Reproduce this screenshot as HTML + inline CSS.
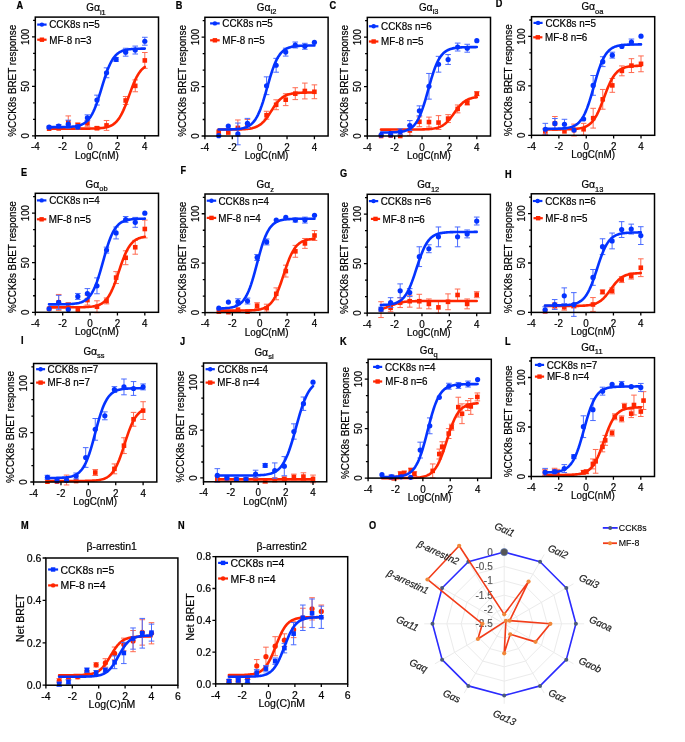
<!DOCTYPE html>
<html><head><meta charset="utf-8"><style>html,body{margin:0;padding:0;background:#fff;}svg{display:block;}text{stroke:#000;stroke-width:0.2px;}</style></head>
<body><div style="will-change:transform">
<svg width="685" height="742" viewBox="0 0 685 742" font-family='"Liberation Sans", sans-serif' fill="#000">
<rect width="685" height="742" fill="#fff"/>
<path d="M58.7 127.39V129.37M55.9 127.39h5.6M55.9 129.37h5.6" stroke="#ff6a50" stroke-width="1" fill="none"/>
<path d="M68.27 115.92V128.78M65.47 115.92h5.6M65.47 128.78h5.6" stroke="#ff6a50" stroke-width="1" fill="none"/>
<path d="M77.83 123.04V127M75.03 123.04h5.6M75.03 127h5.6" stroke="#ff6a50" stroke-width="1" fill="none"/>
<path d="M87.4 120.27V126.21M84.6 120.27h5.6M84.6 126.21h5.6" stroke="#ff6a50" stroke-width="1" fill="none"/>
<path d="M96.97 126.7V129.67M94.17 126.7h5.6M94.17 129.67h5.6" stroke="#ff6a50" stroke-width="1" fill="none"/>
<path d="M106.54 120.47V130.36M103.74 120.47h5.6M103.74 130.36h5.6" stroke="#ff6a50" stroke-width="1" fill="none"/>
<path d="M125.67 96.53V104.44M122.87 96.53h5.6M122.87 104.44h5.6" stroke="#ff6a50" stroke-width="1" fill="none"/>
<path d="M135.24 79.91V91.78M132.44 79.91h5.6M132.44 91.78h5.6" stroke="#ff6a50" stroke-width="1" fill="none"/>
<path d="M144.81 52.51V68.34M142.01 52.51h5.6M142.01 68.34h5.6" stroke="#ff6a50" stroke-width="1" fill="none"/>
<polyline points="48.99,128.68 50.19,128.68 51.38,128.68 52.58,128.68 53.78,128.68 54.98,128.68 56.18,128.68 57.37,128.68 58.57,128.68 59.77,128.68 60.97,128.68 62.16,128.68 63.36,128.68 64.56,128.68 65.76,128.68 66.96,128.68 68.15,128.68 69.35,128.68 70.55,128.67 71.75,128.67 72.94,128.67 74.14,128.67 75.34,128.67 76.54,128.67 77.74,128.67 78.93,128.66 80.13,128.66 81.33,128.66 82.53,128.65 83.72,128.65 84.92,128.64 86.12,128.63 87.32,128.62 88.52,128.61 89.71,128.59 90.91,128.57 92.11,128.55 93.31,128.52 94.5,128.48 95.7,128.44 96.9,128.38 98.1,128.32 99.3,128.24 100.49,128.14 101.69,128.02 102.89,127.88 104.09,127.7 105.28,127.49 106.48,127.23 107.68,126.92 108.88,126.54 110.08,126.08 111.27,125.52 112.47,124.86 113.67,124.07 114.87,123.13 116.06,122.01 117.26,120.7 118.46,119.18 119.66,117.42 120.86,115.41 122.05,113.15 123.25,110.63 124.45,107.87 125.65,104.89 126.84,101.75 128.04,98.49 129.24,95.16 130.44,91.85 131.64,88.62 132.83,85.52 134.03,82.6 135.23,79.91 136.43,77.46 137.62,75.27 138.82,73.33 140.02,71.64 141.22,70.18 142.42,68.93 143.61,67.87 144.81,66.97" fill="none" stroke="#ff2600" stroke-width="2.6" stroke-linecap="round" stroke-linejoin="round"/>
<rect x="46.83" y="126.38" width="4.6" height="4.6" fill="#ff2600"/>
<rect x="56.4" y="126.08" width="4.6" height="4.6" fill="#ff2600"/>
<rect x="65.97" y="120.05" width="4.6" height="4.6" fill="#ff2600"/>
<rect x="75.53" y="122.72" width="4.6" height="4.6" fill="#ff2600"/>
<rect x="85.1" y="120.94" width="4.6" height="4.6" fill="#ff2600"/>
<rect x="94.67" y="125.88" width="4.6" height="4.6" fill="#ff2600"/>
<rect x="104.24" y="123.11" width="4.6" height="4.6" fill="#ff2600"/>
<rect x="123.37" y="98.19" width="4.6" height="4.6" fill="#ff2600"/>
<rect x="132.94" y="83.55" width="4.6" height="4.6" fill="#ff2600"/>
<rect x="142.51" y="58.13" width="4.6" height="4.6" fill="#ff2600"/>
<path d="M49.13 126.21V128.18M46.33 126.21h5.6M46.33 128.18h5.6" stroke="#4a6bff" stroke-width="1" fill="none"/>
<path d="M58.7 124.52V127.49M55.9 124.52h5.6M55.9 127.49h5.6" stroke="#4a6bff" stroke-width="1" fill="none"/>
<path d="M68.27 120.17V128.08M65.47 120.17h5.6M65.47 128.08h5.6" stroke="#4a6bff" stroke-width="1" fill="none"/>
<path d="M77.83 124.92V128.88M75.03 124.92h5.6M75.03 128.88h5.6" stroke="#4a6bff" stroke-width="1" fill="none"/>
<path d="M87.4 114.83V120.76M84.6 114.83h5.6M84.6 120.76h5.6" stroke="#4a6bff" stroke-width="1" fill="none"/>
<path d="M96.97 95.15V105.04M94.17 95.15h5.6M94.17 105.04h5.6" stroke="#4a6bff" stroke-width="1" fill="none"/>
<path d="M106.54 67.84V77.74M103.74 67.84h5.6M103.74 77.74h5.6" stroke="#4a6bff" stroke-width="1" fill="none"/>
<path d="M116.11 57.46V61.41M113.31 57.46h5.6M113.31 61.41h5.6" stroke="#4a6bff" stroke-width="1" fill="none"/>
<path d="M125.67 48.26V56.17M122.87 48.26h5.6M122.87 56.17h5.6" stroke="#4a6bff" stroke-width="1" fill="none"/>
<path d="M135.24 46.08V54M132.44 46.08h5.6M132.44 54h5.6" stroke="#4a6bff" stroke-width="1" fill="none"/>
<path d="M144.81 37.28V45.19M142.01 37.28h5.6M142.01 45.19h5.6" stroke="#4a6bff" stroke-width="1" fill="none"/>
<polyline points="48.99,127.18 50.19,127.18 51.38,127.18 52.58,127.17 53.78,127.17 54.98,127.16 56.18,127.16 57.37,127.15 58.57,127.14 59.77,127.13 60.97,127.11 62.16,127.09 63.36,127.07 64.56,127.04 65.76,127.01 66.96,126.97 68.15,126.92 69.35,126.85 70.55,126.78 71.75,126.69 72.94,126.57 74.14,126.44 75.34,126.27 76.54,126.07 77.74,125.82 78.93,125.52 80.13,125.16 81.33,124.72 82.53,124.18 83.72,123.54 84.92,122.77 86.12,121.85 87.32,120.76 88.52,119.46 89.71,117.94 90.91,116.17 92.11,114.11 93.31,111.77 94.5,109.11 95.7,106.16 96.9,102.91 98.1,99.41 99.3,95.69 100.49,91.82 101.69,87.87 102.89,83.93 104.09,80.06 105.28,76.34 106.48,72.84 107.68,69.59 108.88,66.63 110.08,63.98 111.27,61.64 112.47,59.58 113.67,57.81 114.87,56.29 116.06,54.99 117.26,53.9 118.46,52.98 119.66,52.21 120.86,51.57 122.05,51.03 123.25,50.59 124.45,50.23 125.65,49.93 126.84,49.68 128.04,49.48 129.24,49.31 130.44,49.18 131.64,49.06 132.83,48.97 134.03,48.9 135.23,48.83 136.43,48.78 137.62,48.74 138.82,48.71 140.02,48.68 141.22,48.66 142.42,48.64 143.61,48.62 144.81,48.61" fill="none" stroke="#0433ff" stroke-width="2.6" stroke-linecap="round" stroke-linejoin="round"/>
<circle cx="49.13" cy="127.19" r="2.6" fill="#0433ff"/>
<circle cx="58.7" cy="126.01" r="2.6" fill="#0433ff"/>
<circle cx="68.27" cy="124.13" r="2.6" fill="#0433ff"/>
<circle cx="77.83" cy="126.9" r="2.6" fill="#0433ff"/>
<circle cx="87.4" cy="117.8" r="2.6" fill="#0433ff"/>
<circle cx="96.97" cy="100.09" r="2.6" fill="#0433ff"/>
<circle cx="106.54" cy="72.79" r="2.6" fill="#0433ff"/>
<circle cx="116.11" cy="59.44" r="2.6" fill="#0433ff"/>
<circle cx="125.67" cy="52.22" r="2.6" fill="#0433ff"/>
<circle cx="135.24" cy="50.04" r="2.6" fill="#0433ff"/>
<circle cx="144.81" cy="41.24" r="2.6" fill="#0433ff"/>
<rect x="35.3" y="17.1" width="123.2" height="118.7" fill="none" stroke="#000" stroke-width="1.5"/>
<path d="M32 135.8H35.3M32 86.34H35.3M32 36.88H35.3M33.1 119.31H35.3M33.1 102.83H35.3M33.1 69.86H35.3M33.1 53.37H35.3M33.1 20.4H35.3M35.3 135.8V139M62.68 135.8V139M90.06 135.8V139M117.43 135.8V139M144.81 135.8V139" stroke="#000" stroke-width="1.3" fill="none"/>
<text transform="translate(29.1 135.8) rotate(-90) scale(1 1.05)" text-anchor="middle" font-size="9.85">0</text>
<text transform="translate(29.1 86.34) rotate(-90) scale(1 1.05)" text-anchor="middle" font-size="9.85">50</text>
<text transform="translate(29.1 36.88) rotate(-90) scale(1 1.05)" text-anchor="middle" font-size="9.85">100</text>
<text transform="translate(35.3 150.3) scale(1 1.05)" text-anchor="middle" font-size="9.85">-4</text>
<text transform="translate(62.68 150.3) scale(1 1.05)" text-anchor="middle" font-size="9.85">-2</text>
<text transform="translate(90.06 150.3) scale(1 1.05)" text-anchor="middle" font-size="9.85">0</text>
<text transform="translate(117.43 150.3) scale(1 1.05)" text-anchor="middle" font-size="9.85">2</text>
<text transform="translate(144.81 150.3) scale(1 1.05)" text-anchor="middle" font-size="9.85">4</text>
<text transform="translate(96.9 158.7) scale(1 1.05)" text-anchor="middle" font-size="9.85">LogC(nM)</text>
<text transform="translate(15.9 80.75) rotate(-90) scale(1 1.05)" text-anchor="middle" font-size="9.85">%CCK8s BRET response</text>
<text transform="translate(96 11.4) scale(1 1.05)" text-anchor="middle" font-size="9.85">G<tspan font-size="10.5">α</tspan><tspan font-size="7.5" dy="3.2">i1</tspan></text>
<text transform="translate(16.4 8.9) scale(1 1.15)" font-size="9.2" font-weight="bold">A</text>
<path d="M37.2 24.6H46.6" stroke="#0433ff" stroke-width="2.2"/>
<circle cx="41.9" cy="24.6" r="2.2" fill="#0433ff"/>
<text transform="translate(49.2 28.43) scale(1 1.05)" font-size="9.85">CCK8s n=5</text>
<path d="M37.2 39.7H46.6" stroke="#ff2600" stroke-width="2.2"/>
<rect x="39.7" y="37.5" width="4.4" height="4.4" fill="#ff2600"/>
<text transform="translate(49.2 43.53) scale(1 1.05)" font-size="9.85">MF-8 n=3</text>
<path d="M237.87 119.98V135.8M235.07 119.98h5.6M235.07 135.8h5.6" stroke="#ff6a50" stroke-width="1" fill="none"/>
<path d="M247.43 119.48V129.37M244.63 119.48h5.6M244.63 129.37h5.6" stroke="#ff6a50" stroke-width="1" fill="none"/>
<path d="M266.57 111.27V119.18M263.77 111.27h5.6M263.77 119.18h5.6" stroke="#ff6a50" stroke-width="1" fill="none"/>
<path d="M276.14 99.8V109.69M273.34 99.8h5.6M273.34 109.69h5.6" stroke="#ff6a50" stroke-width="1" fill="none"/>
<path d="M285.71 93.76V105.63M282.91 93.76h5.6M282.91 105.63h5.6" stroke="#ff6a50" stroke-width="1" fill="none"/>
<path d="M295.27 87.73V99.6M292.47 87.73h5.6M292.47 99.6h5.6" stroke="#ff6a50" stroke-width="1" fill="none"/>
<path d="M304.84 83.08V98.91M302.04 83.08h5.6M302.04 98.91h5.6" stroke="#ff6a50" stroke-width="1" fill="none"/>
<path d="M314.41 84.86V98.71M311.61 84.86h5.6M311.61 98.71h5.6" stroke="#ff6a50" stroke-width="1" fill="none"/>
<polyline points="218.59,129.57 219.79,129.56 220.98,129.56 222.18,129.56 223.38,129.56 224.58,129.56 225.78,129.55 226.97,129.55 228.17,129.54 229.37,129.54 230.57,129.53 231.76,129.52 232.96,129.51 234.16,129.5 235.36,129.48 236.56,129.46 237.75,129.44 238.95,129.41 240.15,129.37 241.35,129.33 242.54,129.28 243.74,129.21 244.94,129.13 246.14,129.04 247.34,128.92 248.53,128.78 249.73,128.61 250.93,128.4 252.13,128.15 253.32,127.85 254.52,127.49 255.72,127.05 256.92,126.53 258.12,125.92 259.31,125.21 260.51,124.37 261.71,123.4 262.91,122.29 264.1,121.04 265.3,119.65 266.5,118.12 267.7,116.46 268.9,114.71 270.09,112.89 271.29,111.02 272.49,109.16 273.69,107.34 274.88,105.58 276.08,103.93 277.28,102.4 278.48,101 279.68,99.75 280.87,98.65 282.07,97.68 283.27,96.84 284.47,96.12 285.66,95.51 286.86,95 288.06,94.56 289.26,94.2 290.46,93.9 291.65,93.65 292.85,93.44 294.05,93.27 295.25,93.12 296.44,93.01 297.64,92.91 298.84,92.83 300.04,92.77 301.24,92.72 302.43,92.67 303.63,92.64 304.83,92.61 306.03,92.58 307.22,92.56 308.42,92.55 309.62,92.54 310.82,92.52 312.02,92.52 313.21,92.51 314.41,92.5" fill="none" stroke="#ff2600" stroke-width="2.6" stroke-linecap="round" stroke-linejoin="round"/>
<rect x="216.43" y="129.45" width="4.6" height="4.6" fill="#ff2600"/>
<rect x="226" y="130.24" width="4.6" height="4.6" fill="#ff2600"/>
<rect x="235.57" y="125.59" width="4.6" height="4.6" fill="#ff2600"/>
<rect x="245.13" y="122.13" width="4.6" height="4.6" fill="#ff2600"/>
<rect x="264.27" y="112.93" width="4.6" height="4.6" fill="#ff2600"/>
<rect x="273.84" y="102.44" width="4.6" height="4.6" fill="#ff2600"/>
<rect x="283.41" y="97.4" width="4.6" height="4.6" fill="#ff2600"/>
<rect x="292.97" y="91.36" width="4.6" height="4.6" fill="#ff2600"/>
<rect x="302.54" y="88.69" width="4.6" height="4.6" fill="#ff2600"/>
<rect x="312.11" y="89.48" width="4.6" height="4.6" fill="#ff2600"/>
<path d="M237.87 123.04V144.8M235.07 123.04h5.6M235.07 144.8h5.6" stroke="#4a6bff" stroke-width="1" fill="none"/>
<path d="M247.43 118.39V128.28M244.63 118.39h5.6M244.63 128.28h5.6" stroke="#4a6bff" stroke-width="1" fill="none"/>
<path d="M266.57 76.85V94.65M263.77 76.85h5.6M263.77 94.65h5.6" stroke="#4a6bff" stroke-width="1" fill="none"/>
<path d="M276.14 58.35V72.2M273.34 58.35h5.6M273.34 72.2h5.6" stroke="#4a6bff" stroke-width="1" fill="none"/>
<path d="M285.71 48.16V56.08M282.91 48.16h5.6M282.91 56.08h5.6" stroke="#4a6bff" stroke-width="1" fill="none"/>
<path d="M295.27 42.03V47.96M292.47 42.03h5.6M292.47 47.96h5.6" stroke="#4a6bff" stroke-width="1" fill="none"/>
<path d="M304.84 43.32V49.25M302.04 43.32h5.6M302.04 49.25h5.6" stroke="#4a6bff" stroke-width="1" fill="none"/>
<polyline points="218.59,129.55 219.79,129.54 220.98,129.53 222.18,129.53 223.38,129.52 224.58,129.51 225.78,129.49 226.97,129.47 228.17,129.45 229.37,129.43 230.57,129.39 231.76,129.35 232.96,129.31 234.16,129.25 235.36,129.17 236.56,129.09 237.75,128.98 238.95,128.85 240.15,128.69 241.35,128.49 242.54,128.26 243.74,127.97 244.94,127.62 246.14,127.2 247.34,126.69 248.53,126.07 249.73,125.33 250.93,124.44 252.13,123.38 253.32,122.12 254.52,120.64 255.72,118.9 256.92,116.88 258.12,114.55 259.31,111.9 260.51,108.93 261.71,105.63 262.91,102.04 264.1,98.18 265.3,94.13 266.5,89.95 267.7,85.72 268.9,81.52 270.09,77.45 271.29,73.56 272.49,69.93 273.69,66.59 274.88,63.57 276.08,60.87 277.28,58.5 278.48,56.43 279.68,54.65 280.87,53.13 282.07,51.85 283.27,50.76 284.47,49.85 285.66,49.09 286.86,48.45 288.06,47.93 289.26,47.49 290.46,47.14 291.65,46.84 292.85,46.6 294.05,46.4 295.25,46.23 296.44,46.1 297.64,45.99 298.84,45.9 300.04,45.82 301.24,45.76 302.43,45.71 303.63,45.67 304.83,45.64 306.03,45.61 307.22,45.59 308.42,45.57 309.62,45.56 310.82,45.55 312.02,45.54 313.21,45.53 314.41,45.52" fill="none" stroke="#0433ff" stroke-width="2.6" stroke-linecap="round" stroke-linejoin="round"/>
<circle cx="218.73" cy="135.7" r="2.6" fill="#0433ff"/>
<circle cx="228.3" cy="126.01" r="2.6" fill="#0433ff"/>
<circle cx="237.87" cy="133.92" r="2.6" fill="#0433ff"/>
<circle cx="247.43" cy="123.34" r="2.6" fill="#0433ff"/>
<circle cx="266.57" cy="85.75" r="2.6" fill="#0433ff"/>
<circle cx="276.14" cy="65.27" r="2.6" fill="#0433ff"/>
<circle cx="285.71" cy="52.12" r="2.6" fill="#0433ff"/>
<circle cx="295.27" cy="45" r="2.6" fill="#0433ff"/>
<circle cx="304.84" cy="46.28" r="2.6" fill="#0433ff"/>
<circle cx="314.41" cy="42.33" r="2.6" fill="#0433ff"/>
<rect x="204.9" y="17.3" width="123.2" height="118.7" fill="none" stroke="#000" stroke-width="1.5"/>
<path d="M201.6 136H204.9M201.6 86.54H204.9M201.6 37.08H204.9M202.7 119.51H204.9M202.7 103.03H204.9M202.7 70.06H204.9M202.7 53.57H204.9M202.7 20.6H204.9M204.9 136V139.2M232.28 136V139.2M259.66 136V139.2M287.03 136V139.2M314.41 136V139.2" stroke="#000" stroke-width="1.3" fill="none"/>
<text transform="translate(198.7 136) rotate(-90) scale(1 1.05)" text-anchor="middle" font-size="9.85">0</text>
<text transform="translate(198.7 86.54) rotate(-90) scale(1 1.05)" text-anchor="middle" font-size="9.85">50</text>
<text transform="translate(198.7 37.08) rotate(-90) scale(1 1.05)" text-anchor="middle" font-size="9.85">100</text>
<text transform="translate(204.9 150.5) scale(1 1.05)" text-anchor="middle" font-size="9.85">-4</text>
<text transform="translate(232.28 150.5) scale(1 1.05)" text-anchor="middle" font-size="9.85">-2</text>
<text transform="translate(259.66 150.5) scale(1 1.05)" text-anchor="middle" font-size="9.85">0</text>
<text transform="translate(287.03 150.5) scale(1 1.05)" text-anchor="middle" font-size="9.85">2</text>
<text transform="translate(314.41 150.5) scale(1 1.05)" text-anchor="middle" font-size="9.85">4</text>
<text transform="translate(266.5 158.9) scale(1 1.05)" text-anchor="middle" font-size="9.85">LogC(nM)</text>
<text transform="translate(185.5 80.95) rotate(-90) scale(1 1.05)" text-anchor="middle" font-size="9.85">%CCK8s BRET response</text>
<text transform="translate(266.6 10.8) scale(1 1.05)" text-anchor="middle" font-size="9.85">G<tspan font-size="10.5">α</tspan><tspan font-size="7.5" dy="3.2">i2</tspan></text>
<text transform="translate(175.8 9.2) scale(1 1.15)" font-size="9.2" font-weight="bold">B</text>
<path d="M210.1 23.4H219.7" stroke="#0433ff" stroke-width="2.2"/>
<circle cx="214.9" cy="23.4" r="2.2" fill="#0433ff"/>
<text transform="translate(222.3 27.23) scale(1 1.05)" font-size="9.85">CCK8s n=5</text>
<path d="M210.1 40.3H219.7" stroke="#ff2600" stroke-width="2.2"/>
<rect x="212.7" y="38.1" width="4.4" height="4.4" fill="#ff2600"/>
<text transform="translate(222.3 44.13) scale(1 1.05)" font-size="9.85">MF-8 n=5</text>
<path d="M409.83 125.52V135.41M407.03 125.52h5.6M407.03 135.41h5.6" stroke="#ff6a50" stroke-width="1" fill="none"/>
<path d="M419.4 116.83V126.71M416.6 116.83h5.6M416.6 126.71h5.6" stroke="#ff6a50" stroke-width="1" fill="none"/>
<path d="M428.97 117.12V127.01M426.17 117.12h5.6M426.17 127.01h5.6" stroke="#ff6a50" stroke-width="1" fill="none"/>
<path d="M438.54 115.64V129.48M435.74 115.64h5.6M435.74 129.48h5.6" stroke="#ff6a50" stroke-width="1" fill="none"/>
<path d="M448.11 114.65V122.56M445.31 114.65h5.6M445.31 122.56h5.6" stroke="#ff6a50" stroke-width="1" fill="none"/>
<path d="M457.67 104.97V112.87M454.87 104.97h5.6M454.87 112.87h5.6" stroke="#ff6a50" stroke-width="1" fill="none"/>
<path d="M467.24 100.91V104.87M464.44 100.91h5.6M464.44 104.87h5.6" stroke="#ff6a50" stroke-width="1" fill="none"/>
<path d="M476.81 91.72V95.68M474.01 91.72h5.6M474.01 95.68h5.6" stroke="#ff6a50" stroke-width="1" fill="none"/>
<polyline points="380.99,129.58 382.19,129.58 383.38,129.58 384.58,129.58 385.78,129.58 386.98,129.58 388.18,129.58 389.37,129.58 390.57,129.58 391.77,129.57 392.97,129.57 394.16,129.57 395.36,129.57 396.56,129.57 397.76,129.57 398.96,129.57 400.15,129.57 401.35,129.57 402.55,129.57 403.75,129.57 404.94,129.57 406.14,129.57 407.34,129.56 408.54,129.56 409.74,129.56 410.93,129.55 412.13,129.55 413.33,129.54 414.53,129.53 415.72,129.52 416.92,129.51 418.12,129.5 419.32,129.48 420.52,129.46 421.71,129.44 422.91,129.41 424.11,129.37 425.31,129.32 426.5,129.27 427.7,129.2 428.9,129.11 430.1,129.01 431.3,128.89 432.49,128.74 433.69,128.56 434.89,128.34 436.09,128.08 437.28,127.76 438.48,127.39 439.68,126.94 440.88,126.4 442.08,125.78 443.27,125.05 444.47,124.2 445.67,123.23 446.87,122.13 448.06,120.9 449.26,119.56 450.46,118.09 451.66,116.54 452.86,114.92 454.05,113.26 455.25,111.6 456.45,109.96 457.65,108.38 458.84,106.89 460.04,105.51 461.24,104.25 462.44,103.11 463.64,102.11 464.83,101.23 466.03,100.46 467.23,99.81 468.43,99.25 469.62,98.78 470.82,98.38 472.02,98.05 473.22,97.77 474.42,97.54 475.61,97.35 476.81,97.19" fill="none" stroke="#ff2600" stroke-width="2.6" stroke-linecap="round" stroke-linejoin="round"/>
<rect x="378.83" y="133.7" width="4.6" height="4.6" fill="#ff2600"/>
<rect x="388.4" y="133.21" width="4.6" height="4.6" fill="#ff2600"/>
<rect x="397.97" y="133.7" width="4.6" height="4.6" fill="#ff2600"/>
<rect x="407.53" y="128.17" width="4.6" height="4.6" fill="#ff2600"/>
<rect x="417.1" y="119.47" width="4.6" height="4.6" fill="#ff2600"/>
<rect x="426.67" y="119.76" width="4.6" height="4.6" fill="#ff2600"/>
<rect x="436.24" y="120.26" width="4.6" height="4.6" fill="#ff2600"/>
<rect x="445.81" y="116.31" width="4.6" height="4.6" fill="#ff2600"/>
<rect x="455.37" y="106.62" width="4.6" height="4.6" fill="#ff2600"/>
<rect x="464.94" y="100.59" width="4.6" height="4.6" fill="#ff2600"/>
<rect x="474.51" y="91.4" width="4.6" height="4.6" fill="#ff2600"/>
<path d="M400.27 128.79V134.72M397.47 128.79h5.6M397.47 134.72h5.6" stroke="#4a6bff" stroke-width="1" fill="none"/>
<path d="M409.83 120.58V130.47M407.03 120.58h5.6M407.03 130.47h5.6" stroke="#4a6bff" stroke-width="1" fill="none"/>
<path d="M419.4 105.86V115.74M416.6 105.86h5.6M416.6 115.74h5.6" stroke="#4a6bff" stroke-width="1" fill="none"/>
<path d="M428.97 73.44V99.14M426.17 73.44h5.6M426.17 99.14h5.6" stroke="#4a6bff" stroke-width="1" fill="none"/>
<path d="M438.54 56.34V72.15M435.74 56.34h5.6M435.74 72.15h5.6" stroke="#4a6bff" stroke-width="1" fill="none"/>
<path d="M448.11 54.56V64.44M445.31 54.56h5.6M445.31 64.44h5.6" stroke="#4a6bff" stroke-width="1" fill="none"/>
<path d="M457.67 43.1V51M454.87 43.1h5.6M454.87 51h5.6" stroke="#4a6bff" stroke-width="1" fill="none"/>
<path d="M467.24 44.28V52.19M464.44 44.28h5.6M464.44 52.19h5.6" stroke="#4a6bff" stroke-width="1" fill="none"/>
<polyline points="380.99,132.51 382.19,132.5 383.38,132.5 384.58,132.49 385.78,132.47 386.98,132.46 388.18,132.44 389.37,132.42 390.57,132.39 391.77,132.36 392.97,132.31 394.16,132.26 395.36,132.2 396.56,132.13 397.76,132.03 398.96,131.92 400.15,131.79 401.35,131.62 402.55,131.42 403.75,131.17 404.94,130.87 406.14,130.5 407.34,130.06 408.54,129.53 409.74,128.89 410.93,128.11 412.13,127.19 413.33,126.08 414.53,124.77 415.72,123.22 416.92,121.41 418.12,119.31 419.32,116.9 420.52,114.16 421.71,111.09 422.91,107.69 424.11,104 425.31,100.05 426.5,95.9 427.7,91.64 428.9,87.34 430.1,83.08 431.3,78.96 432.49,75.05 433.69,71.39 434.89,68.04 436.09,65.02 437.28,62.32 438.48,59.96 439.68,57.9 440.88,56.13 442.08,54.62 443.27,53.34 444.47,52.26 445.67,51.36 446.87,50.61 448.06,49.98 449.26,49.46 450.46,49.03 451.66,48.68 452.86,48.38 454.05,48.14 455.25,47.95 456.45,47.78 457.65,47.65 458.84,47.54 460.04,47.45 461.24,47.38 462.44,47.32 463.64,47.27 464.83,47.23 466.03,47.2 467.23,47.17 468.43,47.15 469.62,47.13 470.82,47.12 472.02,47.1 473.22,47.09 474.42,47.09 475.61,47.08 476.81,47.07" fill="none" stroke="#0433ff" stroke-width="2.6" stroke-linecap="round" stroke-linejoin="round"/>
<circle cx="381.13" cy="135.21" r="2.6" fill="#0433ff"/>
<circle cx="390.7" cy="135.01" r="2.6" fill="#0433ff"/>
<circle cx="400.27" cy="131.75" r="2.6" fill="#0433ff"/>
<circle cx="409.83" cy="125.52" r="2.6" fill="#0433ff"/>
<circle cx="419.4" cy="110.8" r="2.6" fill="#0433ff"/>
<circle cx="428.97" cy="86.29" r="2.6" fill="#0433ff"/>
<circle cx="438.54" cy="64.25" r="2.6" fill="#0433ff"/>
<circle cx="448.11" cy="59.5" r="2.6" fill="#0433ff"/>
<circle cx="457.67" cy="47.05" r="2.6" fill="#0433ff"/>
<circle cx="467.24" cy="48.24" r="2.6" fill="#0433ff"/>
<circle cx="476.81" cy="40.63" r="2.6" fill="#0433ff"/>
<rect x="367.3" y="17.4" width="123.2" height="118.6" fill="none" stroke="#000" stroke-width="1.5"/>
<path d="M364 136H367.3M364 86.58H367.3M364 37.17H367.3M365.1 119.53H367.3M365.1 103.06H367.3M365.1 70.11H367.3M365.1 53.64H367.3M365.1 20.69H367.3M367.3 136V139.2M394.68 136V139.2M422.06 136V139.2M449.43 136V139.2M476.81 136V139.2" stroke="#000" stroke-width="1.3" fill="none"/>
<text transform="translate(361.1 136) rotate(-90) scale(1 1.05)" text-anchor="middle" font-size="9.85">0</text>
<text transform="translate(361.1 86.58) rotate(-90) scale(1 1.05)" text-anchor="middle" font-size="9.85">50</text>
<text transform="translate(361.1 37.17) rotate(-90) scale(1 1.05)" text-anchor="middle" font-size="9.85">100</text>
<text transform="translate(367.3 150.5) scale(1 1.05)" text-anchor="middle" font-size="9.85">-4</text>
<text transform="translate(394.68 150.5) scale(1 1.05)" text-anchor="middle" font-size="9.85">-2</text>
<text transform="translate(422.06 150.5) scale(1 1.05)" text-anchor="middle" font-size="9.85">0</text>
<text transform="translate(449.43 150.5) scale(1 1.05)" text-anchor="middle" font-size="9.85">2</text>
<text transform="translate(476.81 150.5) scale(1 1.05)" text-anchor="middle" font-size="9.85">4</text>
<text transform="translate(428.9 158.9) scale(1 1.05)" text-anchor="middle" font-size="9.85">LogC(nM)</text>
<text transform="translate(347.9 81) rotate(-90) scale(1 1.05)" text-anchor="middle" font-size="9.85">%CCK8s BRET response</text>
<text transform="translate(428.7 10.8) scale(1 1.05)" text-anchor="middle" font-size="9.85">G<tspan font-size="10.5">α</tspan><tspan font-size="7.5" dy="3.2">i3</tspan></text>
<text transform="translate(329.5 8.9) scale(1 1.15)" font-size="9.2" font-weight="bold">C</text>
<path d="M368.9 26.3H378.4" stroke="#0433ff" stroke-width="2.2"/>
<circle cx="373.65" cy="26.3" r="2.2" fill="#0433ff"/>
<text transform="translate(381.1 30.13) scale(1 1.05)" font-size="9.85">CCK8s n=6</text>
<path d="M368.9 41.5H378.4" stroke="#ff2600" stroke-width="2.2"/>
<rect x="371.45" y="39.3" width="4.4" height="4.4" fill="#ff2600"/>
<text transform="translate(381.1 45.33) scale(1 1.05)" font-size="9.85">MF-8 n=5</text>
<path d="M545.33 128.38V134.31M542.53 128.38h5.6M542.53 134.31h5.6" stroke="#ff6a50" stroke-width="1" fill="none"/>
<path d="M554.9 116.52V130.36M552.1 116.52h5.6M552.1 130.36h5.6" stroke="#ff6a50" stroke-width="1" fill="none"/>
<path d="M574.03 124.13V135.99M571.23 124.13h5.6M571.23 135.99h5.6" stroke="#ff6a50" stroke-width="1" fill="none"/>
<path d="M583.6 123.34V135.2M580.8 123.34h5.6M580.8 135.2h5.6" stroke="#ff6a50" stroke-width="1" fill="none"/>
<path d="M593.17 108.32V128.09M590.37 108.32h5.6M590.37 128.09h5.6" stroke="#ff6a50" stroke-width="1" fill="none"/>
<path d="M602.74 89.44V109.21M599.94 89.44h5.6M599.94 109.21h5.6" stroke="#ff6a50" stroke-width="1" fill="none"/>
<path d="M612.31 78.47V92.31M609.51 78.47h5.6M609.51 92.31h5.6" stroke="#ff6a50" stroke-width="1" fill="none"/>
<path d="M621.87 65.92V75.8M619.07 65.92h5.6M619.07 75.8h5.6" stroke="#ff6a50" stroke-width="1" fill="none"/>
<path d="M631.44 58.7V72.54M628.64 58.7h5.6M628.64 72.54h5.6" stroke="#ff6a50" stroke-width="1" fill="none"/>
<path d="M641.01 55.94V71.75M638.21 55.94h5.6M638.21 71.75h5.6" stroke="#ff6a50" stroke-width="1" fill="none"/>
<polyline points="545.19,129.37 546.39,129.37 547.58,129.37 548.78,129.36 549.98,129.36 551.18,129.36 552.38,129.36 553.57,129.36 554.77,129.35 555.97,129.35 557.17,129.35 558.36,129.34 559.56,129.33 560.76,129.33 561.96,129.32 563.16,129.3 564.35,129.29 565.55,129.27 566.75,129.25 567.95,129.22 569.14,129.19 570.34,129.15 571.54,129.1 572.74,129.04 573.94,128.97 575.13,128.88 576.33,128.77 577.53,128.64 578.73,128.48 579.92,128.29 581.12,128.05 582.32,127.76 583.52,127.42 584.72,127 585.91,126.49 587.11,125.88 588.31,125.16 589.51,124.29 590.7,123.26 591.9,122.06 593.1,120.65 594.3,119.02 595.5,117.15 596.69,115.04 597.89,112.68 599.09,110.08 600.29,107.26 601.48,104.27 602.68,101.15 603.88,97.95 605.08,94.75 606.28,91.6 607.47,88.57 608.67,85.7 609.87,83.04 611.07,80.61 612.26,78.42 613.46,76.48 614.66,74.79 615.86,73.32 617.06,72.05 618.25,70.98 619.45,70.07 620.65,69.3 621.85,68.66 623.04,68.13 624.24,67.69 625.44,67.32 626.64,67.02 627.84,66.77 629.03,66.56 630.23,66.39 631.43,66.25 632.63,66.14 633.82,66.05 635.02,65.97 636.22,65.91 637.42,65.85 638.62,65.81 639.81,65.78 641.01,65.75" fill="none" stroke="#ff2600" stroke-width="2.6" stroke-linecap="round" stroke-linejoin="round"/>
<rect x="543.03" y="129.05" width="4.6" height="4.6" fill="#ff2600"/>
<rect x="552.6" y="121.14" width="4.6" height="4.6" fill="#ff2600"/>
<rect x="562.17" y="129.05" width="4.6" height="4.6" fill="#ff2600"/>
<rect x="571.73" y="127.76" width="4.6" height="4.6" fill="#ff2600"/>
<rect x="581.3" y="126.97" width="4.6" height="4.6" fill="#ff2600"/>
<rect x="590.87" y="115.9" width="4.6" height="4.6" fill="#ff2600"/>
<rect x="600.44" y="97.02" width="4.6" height="4.6" fill="#ff2600"/>
<rect x="610.01" y="83.09" width="4.6" height="4.6" fill="#ff2600"/>
<rect x="619.57" y="68.56" width="4.6" height="4.6" fill="#ff2600"/>
<rect x="629.14" y="63.32" width="4.6" height="4.6" fill="#ff2600"/>
<rect x="638.71" y="61.54" width="4.6" height="4.6" fill="#ff2600"/>
<path d="M545.33 123.34V135.2M542.53 123.34h5.6M542.53 135.2h5.6" stroke="#4a6bff" stroke-width="1" fill="none"/>
<path d="M554.9 118.5V128.38M552.1 118.5h5.6M552.1 128.38h5.6" stroke="#4a6bff" stroke-width="1" fill="none"/>
<path d="M564.47 119.29V129.17M561.67 119.29h5.6M561.67 129.17h5.6" stroke="#4a6bff" stroke-width="1" fill="none"/>
<path d="M593.17 75.51V95.27M590.37 75.51h5.6M590.37 95.27h5.6" stroke="#4a6bff" stroke-width="1" fill="none"/>
<path d="M602.74 56.73V66.61M599.94 56.73h5.6M599.94 66.61h5.6" stroke="#4a6bff" stroke-width="1" fill="none"/>
<path d="M612.31 52.18V58.11M609.51 52.18h5.6M609.51 58.11h5.6" stroke="#4a6bff" stroke-width="1" fill="none"/>
<path d="M631.44 39.04V44.97M628.64 39.04h5.6M628.64 44.97h5.6" stroke="#4a6bff" stroke-width="1" fill="none"/>
<polyline points="545.19,128.85 546.39,128.85 547.58,128.84 548.78,128.83 549.98,128.82 551.18,128.81 552.38,128.8 553.57,128.78 554.77,128.76 555.97,128.73 557.17,128.7 558.36,128.66 559.56,128.61 560.76,128.55 561.96,128.48 563.16,128.39 564.35,128.28 565.55,128.15 566.75,127.99 567.95,127.79 569.14,127.56 570.34,127.27 571.54,126.92 572.74,126.49 573.94,125.98 575.13,125.36 576.33,124.62 577.53,123.72 578.73,122.66 579.92,121.39 581.12,119.9 582.32,118.15 583.52,116.12 584.72,113.78 585.91,111.12 587.11,108.13 588.31,104.81 589.51,101.2 590.7,97.33 591.9,93.26 593.1,89.05 594.3,84.8 595.5,80.59 596.69,76.49 597.89,72.59 599.09,68.93 600.29,65.58 601.48,62.54 602.68,59.83 603.88,57.45 605.08,55.37 606.28,53.58 607.47,52.06 608.67,50.76 609.87,49.67 611.07,48.75 612.26,47.99 613.46,47.35 614.66,46.82 615.86,46.39 617.06,46.03 618.25,45.73 619.45,45.49 620.65,45.28 621.85,45.12 623.04,44.98 624.24,44.87 625.44,44.78 626.64,44.71 627.84,44.65 629.03,44.6 630.23,44.56 631.43,44.52 632.63,44.5 633.82,44.47 635.02,44.46 636.22,44.44 637.42,44.43 638.62,44.42 639.81,44.41 641.01,44.4" fill="none" stroke="#0433ff" stroke-width="2.6" stroke-linecap="round" stroke-linejoin="round"/>
<circle cx="545.33" cy="129.27" r="2.6" fill="#0433ff"/>
<circle cx="554.9" cy="123.44" r="2.6" fill="#0433ff"/>
<circle cx="564.47" cy="124.23" r="2.6" fill="#0433ff"/>
<circle cx="574.03" cy="130.06" r="2.6" fill="#0433ff"/>
<circle cx="583.6" cy="118.99" r="2.6" fill="#0433ff"/>
<circle cx="593.17" cy="85.39" r="2.6" fill="#0433ff"/>
<circle cx="602.74" cy="61.67" r="2.6" fill="#0433ff"/>
<circle cx="612.31" cy="55.15" r="2.6" fill="#0433ff"/>
<circle cx="621.87" cy="46.45" r="2.6" fill="#0433ff"/>
<circle cx="631.44" cy="42" r="2.6" fill="#0433ff"/>
<circle cx="641.01" cy="36.17" r="2.6" fill="#0433ff"/>
<rect x="531.5" y="16.7" width="123.2" height="118.6" fill="none" stroke="#000" stroke-width="1.5"/>
<path d="M528.2 135.3H531.5M528.2 85.88H531.5M528.2 36.47H531.5M529.3 118.83H531.5M529.3 102.36H531.5M529.3 69.41H531.5M529.3 52.94H531.5M529.3 19.99H531.5M531.5 135.3V138.5M558.88 135.3V138.5M586.26 135.3V138.5M613.63 135.3V138.5M641.01 135.3V138.5" stroke="#000" stroke-width="1.3" fill="none"/>
<text transform="translate(525.3 135.3) rotate(-90) scale(1 1.05)" text-anchor="middle" font-size="9.85">0</text>
<text transform="translate(525.3 85.88) rotate(-90) scale(1 1.05)" text-anchor="middle" font-size="9.85">50</text>
<text transform="translate(525.3 36.47) rotate(-90) scale(1 1.05)" text-anchor="middle" font-size="9.85">100</text>
<text transform="translate(531.5 149.8) scale(1 1.05)" text-anchor="middle" font-size="9.85">-4</text>
<text transform="translate(558.88 149.8) scale(1 1.05)" text-anchor="middle" font-size="9.85">-2</text>
<text transform="translate(586.26 149.8) scale(1 1.05)" text-anchor="middle" font-size="9.85">0</text>
<text transform="translate(613.63 149.8) scale(1 1.05)" text-anchor="middle" font-size="9.85">2</text>
<text transform="translate(641.01 149.8) scale(1 1.05)" text-anchor="middle" font-size="9.85">4</text>
<text transform="translate(593.1 158.2) scale(1 1.05)" text-anchor="middle" font-size="9.85">LogC(nM)</text>
<text transform="translate(512.1 80.3) rotate(-90) scale(1 1.05)" text-anchor="middle" font-size="9.85">%CCK8s BRET response</text>
<text transform="translate(592.4 10.3) scale(1 1.05)" text-anchor="middle" font-size="9.85">G<tspan font-size="10.5">α</tspan><tspan font-size="7.5" dy="3.2">oa</tspan></text>
<text transform="translate(495.8 6.8) scale(1 1.15)" font-size="9.2" font-weight="bold">D</text>
<path d="M533.5 22.9H542.6" stroke="#0433ff" stroke-width="2.2"/>
<circle cx="538.05" cy="22.9" r="2.2" fill="#0433ff"/>
<text transform="translate(545.4 26.73) scale(1 1.05)" font-size="9.85">CCK8s n=5</text>
<path d="M533.2 37.3H542.4" stroke="#ff2600" stroke-width="2.2"/>
<rect x="535.6" y="35.1" width="4.4" height="4.4" fill="#ff2600"/>
<text transform="translate(545 41.13) scale(1 1.05)" font-size="9.85">MF-8 n=6</text>
<path d="M58.7 294.45V310.32M55.9 294.45h5.6M55.9 310.32h5.6" stroke="#ff6a50" stroke-width="1" fill="none"/>
<path d="M68.27 302.58V312.5M65.47 302.58h5.6M65.47 312.5h5.6" stroke="#ff6a50" stroke-width="1" fill="none"/>
<path d="M87.4 295.14V305.06M84.6 295.14h5.6M84.6 305.06h5.6" stroke="#ff6a50" stroke-width="1" fill="none"/>
<path d="M96.97 300.8V312.7M94.17 300.8h5.6M94.17 312.7h5.6" stroke="#ff6a50" stroke-width="1" fill="none"/>
<path d="M106.54 297.92V303.87M103.74 297.92h5.6M103.74 303.87h5.6" stroke="#ff6a50" stroke-width="1" fill="none"/>
<path d="M116.11 271.64V283.54M113.31 271.64h5.6M113.31 283.54h5.6" stroke="#ff6a50" stroke-width="1" fill="none"/>
<path d="M125.67 250.82V264.7M122.87 250.82h5.6M122.87 264.7h5.6" stroke="#ff6a50" stroke-width="1" fill="none"/>
<path d="M135.24 240.31V254.19M132.44 240.31h5.6M132.44 254.19h5.6" stroke="#ff6a50" stroke-width="1" fill="none"/>
<path d="M144.81 220.07V237.93M142.01 220.07h5.6M142.01 237.93h5.6" stroke="#ff6a50" stroke-width="1" fill="none"/>
<polyline points="48.99,307.34 50.19,307.34 51.38,307.34 52.58,307.34 53.78,307.34 54.98,307.34 56.18,307.34 57.37,307.34 58.57,307.34 59.77,307.34 60.97,307.34 62.16,307.34 63.36,307.34 64.56,307.33 65.76,307.33 66.96,307.33 68.15,307.33 69.35,307.32 70.55,307.32 71.75,307.32 72.94,307.31 74.14,307.3 75.34,307.29 76.54,307.28 77.74,307.27 78.93,307.25 80.13,307.23 81.33,307.21 82.53,307.18 83.72,307.15 84.92,307.1 86.12,307.05 87.32,306.99 88.52,306.91 89.71,306.81 90.91,306.69 92.11,306.55 93.31,306.37 94.5,306.16 95.7,305.9 96.9,305.59 98.1,305.21 99.3,304.76 100.49,304.2 101.69,303.54 102.89,302.75 104.09,301.8 105.28,300.68 106.48,299.36 107.68,297.81 108.88,296.02 110.08,293.97 111.27,291.64 112.47,289.04 113.67,286.16 114.87,283.04 116.06,279.72 117.26,276.24 118.46,272.67 119.66,269.08 120.86,265.54 122.05,262.12 123.25,258.87 124.45,255.86 125.65,253.1 126.84,250.61 128.04,248.4 129.24,246.46 130.44,244.78 131.64,243.33 132.83,242.1 134.03,241.06 135.23,240.18 136.43,239.44 137.62,238.83 138.82,238.32 140.02,237.9 141.22,237.55 142.42,237.26 143.61,237.02 144.81,236.83" fill="none" stroke="#ff2600" stroke-width="2.6" stroke-linecap="round" stroke-linejoin="round"/>
<rect x="46.83" y="306.53" width="4.6" height="4.6" fill="#ff2600"/>
<rect x="56.4" y="300.08" width="4.6" height="4.6" fill="#ff2600"/>
<rect x="65.97" y="305.24" width="4.6" height="4.6" fill="#ff2600"/>
<rect x="75.53" y="307.32" width="4.6" height="4.6" fill="#ff2600"/>
<rect x="85.1" y="297.8" width="4.6" height="4.6" fill="#ff2600"/>
<rect x="94.67" y="304.45" width="4.6" height="4.6" fill="#ff2600"/>
<rect x="104.24" y="298.6" width="4.6" height="4.6" fill="#ff2600"/>
<rect x="113.81" y="275.29" width="4.6" height="4.6" fill="#ff2600"/>
<rect x="123.37" y="255.46" width="4.6" height="4.6" fill="#ff2600"/>
<rect x="132.94" y="244.95" width="4.6" height="4.6" fill="#ff2600"/>
<rect x="142.51" y="226.7" width="4.6" height="4.6" fill="#ff2600"/>
<path d="M58.7 295.34V309.23M55.9 295.34h5.6M55.9 309.23h5.6" stroke="#4a6bff" stroke-width="1" fill="none"/>
<path d="M77.83 293.46V299.41M75.03 293.46h5.6M75.03 299.41h5.6" stroke="#4a6bff" stroke-width="1" fill="none"/>
<path d="M87.4 288.6V298.52M84.6 288.6h5.6M84.6 298.52h5.6" stroke="#4a6bff" stroke-width="1" fill="none"/>
<path d="M96.97 277.89V293.76M94.17 277.89h5.6M94.17 293.76h5.6" stroke="#4a6bff" stroke-width="1" fill="none"/>
<path d="M106.54 247.15V253.1M103.74 247.15h5.6M103.74 253.1h5.6" stroke="#4a6bff" stroke-width="1" fill="none"/>
<path d="M116.11 227.02V238.92M113.31 227.02h5.6M113.31 238.92h5.6" stroke="#4a6bff" stroke-width="1" fill="none"/>
<path d="M125.67 216.5V222.46M122.87 216.5h5.6M122.87 222.46h5.6" stroke="#4a6bff" stroke-width="1" fill="none"/>
<path d="M135.24 217.4V227.31M132.44 217.4h5.6M132.44 227.31h5.6" stroke="#4a6bff" stroke-width="1" fill="none"/>
<polyline points="48.99,304.36 50.19,304.35 51.38,304.35 52.58,304.35 53.78,304.35 54.98,304.34 56.18,304.33 57.37,304.33 58.57,304.32 59.77,304.31 60.97,304.29 62.16,304.28 63.36,304.26 64.56,304.23 65.76,304.21 66.96,304.17 68.15,304.13 69.35,304.07 70.55,304.01 71.75,303.93 72.94,303.83 74.14,303.71 75.34,303.56 76.54,303.39 77.74,303.17 78.93,302.91 80.13,302.59 81.33,302.2 82.53,301.74 83.72,301.17 84.92,300.49 86.12,299.67 87.32,298.7 88.52,297.53 89.71,296.15 90.91,294.53 92.11,292.63 93.31,290.44 94.5,287.92 95.7,285.08 96.9,281.9 98.1,278.41 99.3,274.62 100.49,270.59 101.69,266.39 102.89,262.09 104.09,257.78 105.28,253.55 106.48,249.46 107.68,245.6 108.88,242.02 110.08,238.75 111.27,235.81 112.47,233.2 113.67,230.92 114.87,228.94 116.06,227.24 117.26,225.79 118.46,224.57 119.66,223.54 120.86,222.68 122.05,221.96 123.25,221.37 124.45,220.87 125.65,220.47 126.84,220.13 128.04,219.85 129.24,219.62 130.44,219.44 131.64,219.28 132.83,219.16 134.03,219.05 135.23,218.97 136.43,218.9 137.62,218.84 138.82,218.8 140.02,218.76 141.22,218.73 142.42,218.7 143.61,218.68 144.81,218.66" fill="none" stroke="#0433ff" stroke-width="2.6" stroke-linecap="round" stroke-linejoin="round"/>
<circle cx="49.13" cy="308.83" r="2.6" fill="#0433ff"/>
<circle cx="58.7" cy="302.28" r="2.6" fill="#0433ff"/>
<circle cx="68.27" cy="309.62" r="2.6" fill="#0433ff"/>
<circle cx="77.83" cy="296.43" r="2.6" fill="#0433ff"/>
<circle cx="87.4" cy="293.56" r="2.6" fill="#0433ff"/>
<circle cx="96.97" cy="285.82" r="2.6" fill="#0433ff"/>
<circle cx="106.54" cy="250.12" r="2.6" fill="#0433ff"/>
<circle cx="116.11" cy="232.97" r="2.6" fill="#0433ff"/>
<circle cx="125.67" cy="219.48" r="2.6" fill="#0433ff"/>
<circle cx="135.24" cy="222.36" r="2.6" fill="#0433ff"/>
<circle cx="144.81" cy="213.13" r="2.6" fill="#0433ff"/>
<rect x="35.3" y="193.3" width="123.2" height="119" fill="none" stroke="#000" stroke-width="1.5"/>
<path d="M32 312.3H35.3M32 262.72H35.3M32 213.13H35.3M33.1 295.77H35.3M33.1 279.24H35.3M33.1 246.19H35.3M33.1 229.66H35.3M33.1 196.61H35.3M35.3 312.3V315.5M62.68 312.3V315.5M90.06 312.3V315.5M117.43 312.3V315.5M144.81 312.3V315.5" stroke="#000" stroke-width="1.3" fill="none"/>
<text transform="translate(29.1 312.3) rotate(-90) scale(1 1.05)" text-anchor="middle" font-size="9.85">0</text>
<text transform="translate(29.1 262.72) rotate(-90) scale(1 1.05)" text-anchor="middle" font-size="9.85">50</text>
<text transform="translate(29.1 213.13) rotate(-90) scale(1 1.05)" text-anchor="middle" font-size="9.85">100</text>
<text transform="translate(35.3 326.8) scale(1 1.05)" text-anchor="middle" font-size="9.85">-4</text>
<text transform="translate(62.68 326.8) scale(1 1.05)" text-anchor="middle" font-size="9.85">-2</text>
<text transform="translate(90.06 326.8) scale(1 1.05)" text-anchor="middle" font-size="9.85">0</text>
<text transform="translate(117.43 326.8) scale(1 1.05)" text-anchor="middle" font-size="9.85">2</text>
<text transform="translate(144.81 326.8) scale(1 1.05)" text-anchor="middle" font-size="9.85">4</text>
<text transform="translate(96.9 335.2) scale(1 1.05)" text-anchor="middle" font-size="9.85">LogC(nM)</text>
<text transform="translate(15.9 257.1) rotate(-90) scale(1 1.05)" text-anchor="middle" font-size="9.85">%CCK8s BRET response</text>
<text transform="translate(96.6 187.6) scale(1 1.05)" text-anchor="middle" font-size="9.85">G<tspan font-size="10.5">α</tspan><tspan font-size="7.5" dy="3.2">ob</tspan></text>
<text transform="translate(21 176.1) scale(1 1.15)" font-size="9.2" font-weight="bold">E</text>
<path d="M36.9 200.4H46.4" stroke="#0433ff" stroke-width="2.2"/>
<circle cx="41.65" cy="200.4" r="2.2" fill="#0433ff"/>
<text transform="translate(49.2 204.23) scale(1 1.05)" font-size="9.85">CCK8s n=4</text>
<path d="M36.9 219.3H46.3" stroke="#ff2600" stroke-width="2.2"/>
<rect x="39.4" y="217.1" width="4.4" height="4.4" fill="#ff2600"/>
<text transform="translate(48.7 223.13) scale(1 1.05)" font-size="9.85">MF-8 n=5</text>
<path d="M257.1 302.72V308.65M254.3 302.72h5.6M254.3 308.65h5.6" stroke="#ff6a50" stroke-width="1" fill="none"/>
<path d="M266.67 304.2V312.11M263.87 304.2h5.6M263.87 312.11h5.6" stroke="#ff6a50" stroke-width="1" fill="none"/>
<path d="M276.24 287.89V299.75M273.44 287.89h5.6M273.44 299.75h5.6" stroke="#ff6a50" stroke-width="1" fill="none"/>
<path d="M285.81 265.16V277.02M283.01 265.16h5.6M283.01 277.02h5.6" stroke="#ff6a50" stroke-width="1" fill="none"/>
<path d="M295.37 245.39V257.25M292.57 245.39h5.6M292.57 257.25h5.6" stroke="#ff6a50" stroke-width="1" fill="none"/>
<path d="M304.94 238.48V248.36M302.14 238.48h5.6M302.14 248.36h5.6" stroke="#ff6a50" stroke-width="1" fill="none"/>
<path d="M314.51 230.57V240.45M311.71 230.57h5.6M311.71 240.45h5.6" stroke="#ff6a50" stroke-width="1" fill="none"/>
<polyline points="218.69,310.62 219.89,310.62 221.08,310.62 222.28,310.62 223.48,310.62 224.68,310.62 225.88,310.62 227.07,310.62 228.27,310.62 229.47,310.62 230.67,310.61 231.86,310.61 233.06,310.61 234.26,310.61 235.46,310.6 236.66,310.6 237.85,310.59 239.05,310.58 240.25,310.58 241.45,310.56 242.64,310.55 243.84,310.54 245.04,310.52 246.24,310.49 247.44,310.46 248.63,310.43 249.83,310.38 251.03,310.33 252.23,310.26 253.42,310.18 254.62,310.09 255.82,309.97 257.02,309.82 258.22,309.65 259.41,309.43 260.61,309.17 261.81,308.86 263.01,308.47 264.2,308.01 265.4,307.45 266.6,306.78 267.8,305.98 269,305.02 270.19,303.89 271.39,302.56 272.59,301 273.79,299.19 274.98,297.11 276.18,294.76 277.38,292.13 278.58,289.22 279.78,286.07 280.97,282.71 282.17,279.2 283.37,275.59 284.57,271.96 285.76,268.38 286.96,264.92 288.16,261.65 289.36,258.6 290.56,255.81 291.75,253.3 292.95,251.06 294.15,249.1 295.35,247.4 296.54,245.94 297.74,244.7 298.94,243.64 300.14,242.76 301.34,242.01 302.53,241.39 303.73,240.88 304.93,240.45 306.13,240.1 307.32,239.81 308.52,239.57 309.72,239.37 310.92,239.21 312.12,239.08 313.31,238.97 314.51,238.88" fill="none" stroke="#ff2600" stroke-width="2.6" stroke-linecap="round" stroke-linejoin="round"/>
<rect x="216.53" y="309.31" width="4.6" height="4.6" fill="#ff2600"/>
<rect x="226.1" y="309.81" width="4.6" height="4.6" fill="#ff2600"/>
<rect x="235.67" y="307.34" width="4.6" height="4.6" fill="#ff2600"/>
<rect x="245.23" y="309.31" width="4.6" height="4.6" fill="#ff2600"/>
<rect x="254.8" y="303.38" width="4.6" height="4.6" fill="#ff2600"/>
<rect x="264.37" y="305.85" width="4.6" height="4.6" fill="#ff2600"/>
<rect x="273.94" y="291.52" width="4.6" height="4.6" fill="#ff2600"/>
<rect x="283.51" y="268.79" width="4.6" height="4.6" fill="#ff2600"/>
<rect x="293.07" y="249.02" width="4.6" height="4.6" fill="#ff2600"/>
<rect x="302.64" y="241.12" width="4.6" height="4.6" fill="#ff2600"/>
<rect x="312.21" y="233.21" width="4.6" height="4.6" fill="#ff2600"/>
<path d="M237.97 298.76V304.69M235.17 298.76h5.6M235.17 304.69h5.6" stroke="#4a6bff" stroke-width="1" fill="none"/>
<path d="M247.53 298.07V304M244.73 298.07h5.6M244.73 304h5.6" stroke="#4a6bff" stroke-width="1" fill="none"/>
<path d="M257.1 254.49V260.42M254.3 254.49h5.6M254.3 260.42h5.6" stroke="#4a6bff" stroke-width="1" fill="none"/>
<path d="M266.67 238.97V244.9M263.87 238.97h5.6M263.87 244.9h5.6" stroke="#4a6bff" stroke-width="1" fill="none"/>
<path d="M295.37 218.12V222.07M292.57 218.12h5.6M292.57 222.07h5.6" stroke="#4a6bff" stroke-width="1" fill="none"/>
<path d="M304.94 217.13V223.06M302.14 217.13h5.6M302.14 223.06h5.6" stroke="#4a6bff" stroke-width="1" fill="none"/>
<polyline points="218.69,308.5 219.89,308.47 221.08,308.43 222.28,308.39 223.48,308.33 224.68,308.26 225.88,308.17 227.07,308.07 228.27,307.94 229.47,307.78 230.67,307.59 231.86,307.36 233.06,307.08 234.26,306.73 235.46,306.32 236.66,305.81 237.85,305.2 239.05,304.47 240.25,303.59 241.45,302.54 242.64,301.29 243.84,299.81 245.04,298.06 246.24,296.03 247.44,293.69 248.63,291 249.83,287.97 251.03,284.59 252.23,280.88 253.42,276.87 254.62,272.62 255.82,268.19 257.02,263.68 258.22,259.16 259.41,254.74 260.61,250.49 261.81,246.48 263.01,242.77 264.2,239.39 265.4,236.35 266.6,233.67 267.8,231.32 269,229.29 270.19,227.55 271.39,226.07 272.59,224.82 273.79,223.76 274.98,222.88 276.18,222.15 277.38,221.54 278.58,221.04 279.78,220.62 280.97,220.28 282.17,220 283.37,219.76 284.57,219.57 285.76,219.42 286.96,219.29 288.16,219.18 289.36,219.1 290.56,219.03 291.75,218.97 292.95,218.92 294.15,218.88 295.35,218.85 296.54,218.82 297.74,218.8 298.94,218.79 300.14,218.77 301.34,218.76 302.53,218.75 303.73,218.74 304.93,218.74 306.13,218.73 307.32,218.73 308.52,218.72 309.72,218.72 310.92,218.72 312.12,218.72 313.31,218.72 314.51,218.71" fill="none" stroke="#0433ff" stroke-width="2.6" stroke-linecap="round" stroke-linejoin="round"/>
<circle cx="218.83" cy="308.15" r="2.6" fill="#0433ff"/>
<circle cx="228.4" cy="302.12" r="2.6" fill="#0433ff"/>
<circle cx="237.97" cy="301.73" r="2.6" fill="#0433ff"/>
<circle cx="247.53" cy="301.04" r="2.6" fill="#0433ff"/>
<circle cx="257.1" cy="257.45" r="2.6" fill="#0433ff"/>
<circle cx="266.67" cy="241.93" r="2.6" fill="#0433ff"/>
<circle cx="276.24" cy="220.09" r="2.6" fill="#0433ff"/>
<circle cx="285.81" cy="217.42" r="2.6" fill="#0433ff"/>
<circle cx="295.37" cy="220.09" r="2.6" fill="#0433ff"/>
<circle cx="304.94" cy="220.09" r="2.6" fill="#0433ff"/>
<circle cx="314.51" cy="215.35" r="2.6" fill="#0433ff"/>
<rect x="205" y="194" width="123.2" height="118.6" fill="none" stroke="#000" stroke-width="1.5"/>
<path d="M201.7 312.6H205M201.7 263.18H205M201.7 213.77H205M202.8 296.13H205M202.8 279.66H205M202.8 246.71H205M202.8 230.24H205M202.8 197.29H205M205 312.6V315.8M232.38 312.6V315.8M259.76 312.6V315.8M287.13 312.6V315.8M314.51 312.6V315.8" stroke="#000" stroke-width="1.3" fill="none"/>
<text transform="translate(198.8 312.6) rotate(-90) scale(1 1.05)" text-anchor="middle" font-size="9.85">0</text>
<text transform="translate(198.8 263.18) rotate(-90) scale(1 1.05)" text-anchor="middle" font-size="9.85">50</text>
<text transform="translate(198.8 213.77) rotate(-90) scale(1 1.05)" text-anchor="middle" font-size="9.85">100</text>
<text transform="translate(205 327.1) scale(1 1.05)" text-anchor="middle" font-size="9.85">-4</text>
<text transform="translate(232.38 327.1) scale(1 1.05)" text-anchor="middle" font-size="9.85">-2</text>
<text transform="translate(259.76 327.1) scale(1 1.05)" text-anchor="middle" font-size="9.85">0</text>
<text transform="translate(287.13 327.1) scale(1 1.05)" text-anchor="middle" font-size="9.85">2</text>
<text transform="translate(314.51 327.1) scale(1 1.05)" text-anchor="middle" font-size="9.85">4</text>
<text transform="translate(266.6 335.5) scale(1 1.05)" text-anchor="middle" font-size="9.85">LogC(nM)</text>
<text transform="translate(185.6 257.6) rotate(-90) scale(1 1.05)" text-anchor="middle" font-size="9.85">%CCK8s BRET response</text>
<text transform="translate(265.3 188.4) scale(1 1.05)" text-anchor="middle" font-size="9.85">G<tspan font-size="10.5">α</tspan><tspan font-size="7.5" dy="3.2">z</tspan></text>
<text transform="translate(180.5 174.2) scale(1 1.15)" font-size="9.2" font-weight="bold">F</text>
<path d="M206.75 200.7H216.2" stroke="#0433ff" stroke-width="2.2"/>
<circle cx="211.47" cy="200.7" r="2.2" fill="#0433ff"/>
<text transform="translate(218.5 204.53) scale(1 1.05)" font-size="9.85">CCK8s n=4</text>
<path d="M206.75 217.9H216.2" stroke="#ff2600" stroke-width="2.2"/>
<rect x="209.28" y="215.7" width="4.4" height="4.4" fill="#ff2600"/>
<text transform="translate(218.3 221.73) scale(1 1.05)" font-size="9.85">MF-8 n=4</text>
<path d="M381.03 301.72V317.56M378.23 301.72h5.6M378.23 317.56h5.6" stroke="#ff6a50" stroke-width="1" fill="none"/>
<path d="M390.6 303.89V311.81M387.8 303.89h5.6M387.8 311.81h5.6" stroke="#ff6a50" stroke-width="1" fill="none"/>
<path d="M400.17 297.66V307.56M397.37 297.66h5.6M397.37 307.56h5.6" stroke="#ff6a50" stroke-width="1" fill="none"/>
<path d="M409.73 295.28V307.16M406.93 295.28h5.6M406.93 307.16h5.6" stroke="#ff6a50" stroke-width="1" fill="none"/>
<path d="M419.3 294.29V308.15M416.5 294.29h5.6M416.5 308.15h5.6" stroke="#ff6a50" stroke-width="1" fill="none"/>
<path d="M428.87 298.94V308.84M426.07 298.94h5.6M426.07 308.84h5.6" stroke="#ff6a50" stroke-width="1" fill="none"/>
<path d="M438.44 301.42V313.3M435.64 301.42h5.6M435.64 313.3h5.6" stroke="#ff6a50" stroke-width="1" fill="none"/>
<path d="M448.01 293.89V309.73M445.21 293.89h5.6M445.21 309.73h5.6" stroke="#ff6a50" stroke-width="1" fill="none"/>
<path d="M457.57 289.04V300.92M454.77 289.04h5.6M454.77 300.92h5.6" stroke="#ff6a50" stroke-width="1" fill="none"/>
<path d="M467.14 298.94V308.84M464.34 298.94h5.6M464.34 308.84h5.6" stroke="#ff6a50" stroke-width="1" fill="none"/>
<path d="M476.71 291.72V297.66M473.91 291.72h5.6M473.91 297.66h5.6" stroke="#ff6a50" stroke-width="1" fill="none"/>
<polyline points="380.89,309.03 382.09,308.74 383.28,308.42 384.48,308.06 385.68,307.66 386.88,307.23 388.08,306.78 389.27,306.31 390.47,305.82 391.67,305.34 392.87,304.87 394.06,304.42 395.26,303.99 396.46,303.59 397.66,303.23 398.86,302.91 400.05,302.62 401.25,302.37 402.45,302.15 403.65,301.97 404.84,301.81 406.04,301.67 407.24,301.56 408.44,301.47 409.64,301.39 410.83,301.32 412.03,301.27 413.23,301.23 414.43,301.19 415.62,301.16 416.82,301.13 418.02,301.11 419.22,301.1 420.42,301.08 421.61,301.07 422.81,301.06 424.01,301.06 425.21,301.05 426.4,301.04 427.6,301.04 428.8,301.04 430,301.03 431.2,301.03 432.39,301.03 433.59,301.03 434.79,301.03 435.99,301.03 437.18,301.03 438.38,301.03 439.58,301.02 440.78,301.02 441.98,301.02 443.17,301.02 444.37,301.02 445.57,301.02 446.77,301.02 447.96,301.02 449.16,301.02 450.36,301.02 451.56,301.02 452.76,301.02 453.95,301.02 455.15,301.02 456.35,301.02 457.55,301.02 458.74,301.02 459.94,301.02 461.14,301.02 462.34,301.02 463.54,301.02 464.73,301.02 465.93,301.02 467.13,301.02 468.33,301.02 469.52,301.02 470.72,301.02 471.92,301.02 473.12,301.02 474.32,301.02 475.51,301.02 476.71,301.02" fill="none" stroke="#ff2600" stroke-width="2.6" stroke-linecap="round" stroke-linejoin="round"/>
<rect x="378.73" y="307.34" width="4.6" height="4.6" fill="#ff2600"/>
<rect x="388.3" y="305.55" width="4.6" height="4.6" fill="#ff2600"/>
<rect x="397.87" y="300.31" width="4.6" height="4.6" fill="#ff2600"/>
<rect x="407.43" y="298.92" width="4.6" height="4.6" fill="#ff2600"/>
<rect x="417" y="298.92" width="4.6" height="4.6" fill="#ff2600"/>
<rect x="426.57" y="301.59" width="4.6" height="4.6" fill="#ff2600"/>
<rect x="436.14" y="305.06" width="4.6" height="4.6" fill="#ff2600"/>
<rect x="445.71" y="299.51" width="4.6" height="4.6" fill="#ff2600"/>
<rect x="455.27" y="292.68" width="4.6" height="4.6" fill="#ff2600"/>
<rect x="464.84" y="301.59" width="4.6" height="4.6" fill="#ff2600"/>
<rect x="474.41" y="292.39" width="4.6" height="4.6" fill="#ff2600"/>
<path d="M381.03 307.16V311.12M378.23 307.16h5.6M378.23 311.12h5.6" stroke="#4a6bff" stroke-width="1" fill="none"/>
<path d="M390.6 297.66V307.56M387.8 297.66h5.6M387.8 307.56h5.6" stroke="#4a6bff" stroke-width="1" fill="none"/>
<path d="M400.17 283.9V297.75M397.37 283.9h5.6M397.37 297.75h5.6" stroke="#4a6bff" stroke-width="1" fill="none"/>
<path d="M409.73 288.65V296.57M406.93 288.65h5.6M406.93 296.57h5.6" stroke="#4a6bff" stroke-width="1" fill="none"/>
<path d="M419.3 246.77V266.57M416.5 246.77h5.6M416.5 266.57h5.6" stroke="#4a6bff" stroke-width="1" fill="none"/>
<path d="M428.87 244.79V252.71M426.07 244.79h5.6M426.07 252.71h5.6" stroke="#4a6bff" stroke-width="1" fill="none"/>
<path d="M438.44 226.97V246.77M435.64 226.97h5.6M435.64 246.77h5.6" stroke="#4a6bff" stroke-width="1" fill="none"/>
<path d="M457.57 226.97V246.77M454.77 226.97h5.6M454.77 246.77h5.6" stroke="#4a6bff" stroke-width="1" fill="none"/>
<path d="M467.14 229.94V237.86M464.34 229.94h5.6M464.34 237.86h5.6" stroke="#4a6bff" stroke-width="1" fill="none"/>
<path d="M476.71 217.07V224.99M473.91 217.07h5.6M473.91 224.99h5.6" stroke="#4a6bff" stroke-width="1" fill="none"/>
<polyline points="380.89,305 382.09,304.96 383.28,304.91 384.48,304.84 385.68,304.77 386.88,304.68 388.08,304.57 389.27,304.43 390.47,304.27 391.67,304.07 392.87,303.83 394.06,303.53 395.26,303.17 396.46,302.74 397.66,302.22 398.86,301.59 400.05,300.83 401.25,299.93 402.45,298.86 403.65,297.6 404.84,296.11 406.04,294.39 407.24,292.4 408.44,290.13 409.64,287.58 410.83,284.75 412.03,281.65 413.23,278.32 414.43,274.81 415.62,271.18 416.82,267.5 418.02,263.83 419.22,260.26 420.42,256.85 421.61,253.65 422.81,250.7 424.01,248.03 425.21,245.64 426.4,243.53 427.6,241.7 428.8,240.11 430,238.76 431.2,237.61 432.39,236.63 433.59,235.82 434.79,235.14 435.99,234.57 437.18,234.1 438.38,233.72 439.58,233.39 440.78,233.13 441.98,232.91 443.17,232.73 444.37,232.59 445.57,232.47 446.77,232.37 447.96,232.29 449.16,232.22 450.36,232.16 451.56,232.12 452.76,232.08 453.95,232.05 455.15,232.03 456.35,232.01 457.55,231.99 458.74,231.98 459.94,231.97 461.14,231.96 462.34,231.95 463.54,231.95 464.73,231.94 465.93,231.94 467.13,231.93 468.33,231.93 469.52,231.93 470.72,231.93 471.92,231.93 473.12,231.93 474.32,231.92 475.51,231.92 476.71,231.92" fill="none" stroke="#0433ff" stroke-width="2.6" stroke-linecap="round" stroke-linejoin="round"/>
<circle cx="381.03" cy="309.14" r="2.6" fill="#0433ff"/>
<circle cx="390.6" cy="302.61" r="2.6" fill="#0433ff"/>
<circle cx="400.17" cy="290.83" r="2.6" fill="#0433ff"/>
<circle cx="409.73" cy="292.61" r="2.6" fill="#0433ff"/>
<circle cx="419.3" cy="256.67" r="2.6" fill="#0433ff"/>
<circle cx="428.87" cy="248.75" r="2.6" fill="#0433ff"/>
<circle cx="438.44" cy="236.87" r="2.6" fill="#0433ff"/>
<circle cx="457.57" cy="236.87" r="2.6" fill="#0433ff"/>
<circle cx="467.14" cy="233.9" r="2.6" fill="#0433ff"/>
<circle cx="476.71" cy="221.03" r="2.6" fill="#0433ff"/>
<rect x="367.2" y="194.3" width="123.2" height="118.8" fill="none" stroke="#000" stroke-width="1.5"/>
<path d="M363.9 313.1H367.2M363.9 263.6H367.2M363.9 214.1H367.2M365 296.6H367.2M365 280.1H367.2M365 247.1H367.2M365 230.6H367.2M365 197.6H367.2M367.2 313.1V316.3M394.58 313.1V316.3M421.96 313.1V316.3M449.33 313.1V316.3M476.71 313.1V316.3" stroke="#000" stroke-width="1.3" fill="none"/>
<text transform="translate(361 313.1) rotate(-90) scale(1 1.05)" text-anchor="middle" font-size="9.85">0</text>
<text transform="translate(361 263.6) rotate(-90) scale(1 1.05)" text-anchor="middle" font-size="9.85">50</text>
<text transform="translate(361 214.1) rotate(-90) scale(1 1.05)" text-anchor="middle" font-size="9.85">100</text>
<text transform="translate(367.2 327.6) scale(1 1.05)" text-anchor="middle" font-size="9.85">-4</text>
<text transform="translate(394.58 327.6) scale(1 1.05)" text-anchor="middle" font-size="9.85">-2</text>
<text transform="translate(421.96 327.6) scale(1 1.05)" text-anchor="middle" font-size="9.85">0</text>
<text transform="translate(449.33 327.6) scale(1 1.05)" text-anchor="middle" font-size="9.85">2</text>
<text transform="translate(476.71 327.6) scale(1 1.05)" text-anchor="middle" font-size="9.85">4</text>
<text transform="translate(428.8 336) scale(1 1.05)" text-anchor="middle" font-size="9.85">LogC(nM)</text>
<text transform="translate(347.8 258) rotate(-90) scale(1 1.05)" text-anchor="middle" font-size="9.85">%CCK8s BRET response</text>
<text transform="translate(428.2 188.4) scale(1 1.05)" text-anchor="middle" font-size="9.85">G<tspan font-size="10.5">α</tspan><tspan font-size="7.5" dy="3.2">12</tspan></text>
<text transform="translate(340 176.8) scale(1 1.15)" font-size="9.2" font-weight="bold">G</text>
<path d="M368.9 201.1H378.2" stroke="#0433ff" stroke-width="2.2"/>
<circle cx="373.55" cy="201.1" r="2.2" fill="#0433ff"/>
<text transform="translate(380.7 204.93) scale(1 1.05)" font-size="9.85">CCK8s n=6</text>
<path d="M370.9 218.9H380.1" stroke="#ff2600" stroke-width="2.2"/>
<rect x="373.3" y="216.7" width="4.4" height="4.4" fill="#ff2600"/>
<text transform="translate(382.5 222.73) scale(1 1.05)" font-size="9.85">MF-8 n=6</text>
<path d="M554.7 302.91V308.84M551.9 302.91h5.6M551.9 308.84h5.6" stroke="#ff6a50" stroke-width="1" fill="none"/>
<path d="M564.27 304.2V310.13M561.47 304.2h5.6M561.47 310.13h5.6" stroke="#ff6a50" stroke-width="1" fill="none"/>
<path d="M573.83 303.9V307.85M571.03 303.9h5.6M571.03 307.85h5.6" stroke="#ff6a50" stroke-width="1" fill="none"/>
<path d="M592.97 297.57V311.41M590.17 297.57h5.6M590.17 311.41h5.6" stroke="#ff6a50" stroke-width="1" fill="none"/>
<path d="M602.54 289.96V293.92M599.74 289.96h5.6M599.74 293.92h5.6" stroke="#ff6a50" stroke-width="1" fill="none"/>
<path d="M612.11 287.89V293.82M609.31 287.89h5.6M609.31 293.82h5.6" stroke="#ff6a50" stroke-width="1" fill="none"/>
<path d="M621.67 276.62V282.55M618.87 276.62h5.6M618.87 282.55h5.6" stroke="#ff6a50" stroke-width="1" fill="none"/>
<path d="M631.24 273.16V279.09M628.44 273.16h5.6M628.44 279.09h5.6" stroke="#ff6a50" stroke-width="1" fill="none"/>
<path d="M640.81 258.83V276.62M638.01 258.83h5.6M638.01 276.62h5.6" stroke="#ff6a50" stroke-width="1" fill="none"/>
<polyline points="544.99,305.98 546.19,305.98 547.38,305.98 548.58,305.97 549.78,305.97 550.98,305.97 552.18,305.97 553.37,305.97 554.57,305.97 555.77,305.97 556.97,305.97 558.16,305.97 559.36,305.97 560.56,305.97 561.76,305.97 562.96,305.97 564.15,305.96 565.35,305.96 566.55,305.96 567.75,305.95 568.94,305.95 570.14,305.94 571.34,305.93 572.54,305.92 573.74,305.91 574.93,305.9 576.13,305.88 577.33,305.86 578.53,305.83 579.72,305.8 580.92,305.76 582.12,305.71 583.32,305.65 584.52,305.58 585.71,305.49 586.91,305.38 588.11,305.25 589.31,305.09 590.5,304.9 591.7,304.67 592.9,304.4 594.1,304.06 595.3,303.67 596.49,303.19 597.69,302.64 598.89,301.98 600.09,301.22 601.28,300.34 602.48,299.33 603.68,298.19 604.88,296.93 606.08,295.55 607.27,294.06 608.47,292.48 609.67,290.85 610.87,289.18 612.06,287.52 613.26,285.9 614.46,284.35 615.66,282.89 616.86,281.54 618.05,280.31 619.25,279.21 620.45,278.24 621.65,277.4 622.84,276.66 624.04,276.04 625.24,275.51 626.44,275.06 627.64,274.68 628.83,274.36 630.03,274.1 631.23,273.88 632.43,273.7 633.62,273.55 634.82,273.43 636.02,273.33 637.22,273.24 638.42,273.18 639.61,273.12 640.81,273.07" fill="none" stroke="#ff2600" stroke-width="2.6" stroke-linecap="round" stroke-linejoin="round"/>
<rect x="542.83" y="309.11" width="4.6" height="4.6" fill="#ff2600"/>
<rect x="552.4" y="303.58" width="4.6" height="4.6" fill="#ff2600"/>
<rect x="561.97" y="304.86" width="4.6" height="4.6" fill="#ff2600"/>
<rect x="571.53" y="303.58" width="4.6" height="4.6" fill="#ff2600"/>
<rect x="590.67" y="302.19" width="4.6" height="4.6" fill="#ff2600"/>
<rect x="600.24" y="289.64" width="4.6" height="4.6" fill="#ff2600"/>
<rect x="609.81" y="288.55" width="4.6" height="4.6" fill="#ff2600"/>
<rect x="619.37" y="277.29" width="4.6" height="4.6" fill="#ff2600"/>
<rect x="628.94" y="273.83" width="4.6" height="4.6" fill="#ff2600"/>
<rect x="638.51" y="265.43" width="4.6" height="4.6" fill="#ff2600"/>
<path d="M545.13 306.77V312.7M542.33 306.77h5.6M542.33 312.7h5.6" stroke="#4a6bff" stroke-width="1" fill="none"/>
<path d="M554.7 299.55V309.44M551.9 299.55h5.6M551.9 309.44h5.6" stroke="#4a6bff" stroke-width="1" fill="none"/>
<path d="M564.27 287.89V303.7M561.47 287.89h5.6M561.47 303.7h5.6" stroke="#4a6bff" stroke-width="1" fill="none"/>
<path d="M573.83 292.63V316.35M571.03 292.63h5.6M571.03 316.35h5.6" stroke="#4a6bff" stroke-width="1" fill="none"/>
<path d="M592.97 269.51V285.32M590.17 269.51h5.6M590.17 285.32h5.6" stroke="#4a6bff" stroke-width="1" fill="none"/>
<path d="M602.54 238.77V254.58M599.74 238.77h5.6M599.74 254.58h5.6" stroke="#4a6bff" stroke-width="1" fill="none"/>
<path d="M612.11 233.04V248.85M609.31 233.04h5.6M609.31 248.85h5.6" stroke="#4a6bff" stroke-width="1" fill="none"/>
<path d="M621.67 221.67V237.48M618.87 221.67h5.6M618.87 237.48h5.6" stroke="#4a6bff" stroke-width="1" fill="none"/>
<path d="M631.24 224.14V234.03M628.44 224.14h5.6M628.44 234.03h5.6" stroke="#4a6bff" stroke-width="1" fill="none"/>
<path d="M640.81 226.71V244.5M638.01 226.71h5.6M638.01 244.5h5.6" stroke="#4a6bff" stroke-width="1" fill="none"/>
<polyline points="544.99,305.47 546.19,305.47 547.38,305.46 548.58,305.46 549.78,305.46 550.98,305.45 552.18,305.44 553.37,305.43 554.57,305.42 555.77,305.41 556.97,305.39 558.16,305.38 559.36,305.35 560.56,305.32 561.76,305.29 562.96,305.24 564.15,305.19 565.35,305.13 566.55,305.05 567.75,304.95 568.94,304.84 570.14,304.69 571.34,304.52 572.54,304.31 573.74,304.05 574.93,303.74 576.13,303.36 577.33,302.9 578.53,302.35 579.72,301.69 580.92,300.9 582.12,299.95 583.32,298.83 584.52,297.51 585.71,295.96 586.91,294.17 588.11,292.1 589.31,289.76 590.5,287.13 591.7,284.22 592.9,281.06 594.1,277.69 595.3,274.14 596.49,270.49 597.69,266.81 598.89,263.17 600.09,259.65 601.28,256.3 602.48,253.17 603.68,250.3 604.88,247.72 606.08,245.41 607.27,243.39 608.47,241.63 609.67,240.11 610.87,238.82 612.06,237.73 613.26,236.8 614.46,236.03 615.66,235.39 616.86,234.85 618.05,234.41 619.25,234.04 620.45,233.74 621.65,233.49 622.84,233.28 624.04,233.11 625.24,232.97 626.44,232.86 627.64,232.77 628.83,232.69 630.03,232.63 631.23,232.58 632.43,232.53 633.62,232.5 634.82,232.47 636.02,232.45 637.22,232.43 638.42,232.41 639.61,232.4 640.81,232.39" fill="none" stroke="#0433ff" stroke-width="2.6" stroke-linecap="round" stroke-linejoin="round"/>
<circle cx="545.13" cy="309.73" r="2.6" fill="#0433ff"/>
<circle cx="554.7" cy="304.49" r="2.6" fill="#0433ff"/>
<circle cx="564.27" cy="295.8" r="2.6" fill="#0433ff"/>
<circle cx="573.83" cy="304.49" r="2.6" fill="#0433ff"/>
<circle cx="592.97" cy="277.41" r="2.6" fill="#0433ff"/>
<circle cx="602.54" cy="246.68" r="2.6" fill="#0433ff"/>
<circle cx="612.11" cy="240.94" r="2.6" fill="#0433ff"/>
<circle cx="621.67" cy="229.58" r="2.6" fill="#0433ff"/>
<circle cx="631.24" cy="229.08" r="2.6" fill="#0433ff"/>
<circle cx="640.81" cy="235.61" r="2.6" fill="#0433ff"/>
<rect x="531.3" y="193.8" width="123.2" height="118.6" fill="none" stroke="#000" stroke-width="1.5"/>
<path d="M528 312.4H531.3M528 262.98H531.3M528 213.57H531.3M529.1 295.93H531.3M529.1 279.46H531.3M529.1 246.51H531.3M529.1 230.04H531.3M529.1 197.09H531.3M531.3 312.4V315.6M558.68 312.4V315.6M586.06 312.4V315.6M613.43 312.4V315.6M640.81 312.4V315.6" stroke="#000" stroke-width="1.3" fill="none"/>
<text transform="translate(525.1 312.4) rotate(-90) scale(1 1.05)" text-anchor="middle" font-size="9.85">0</text>
<text transform="translate(525.1 262.98) rotate(-90) scale(1 1.05)" text-anchor="middle" font-size="9.85">50</text>
<text transform="translate(525.1 213.57) rotate(-90) scale(1 1.05)" text-anchor="middle" font-size="9.85">100</text>
<text transform="translate(531.3 326.9) scale(1 1.05)" text-anchor="middle" font-size="9.85">-4</text>
<text transform="translate(558.68 326.9) scale(1 1.05)" text-anchor="middle" font-size="9.85">-2</text>
<text transform="translate(586.06 326.9) scale(1 1.05)" text-anchor="middle" font-size="9.85">0</text>
<text transform="translate(613.43 326.9) scale(1 1.05)" text-anchor="middle" font-size="9.85">2</text>
<text transform="translate(640.81 326.9) scale(1 1.05)" text-anchor="middle" font-size="9.85">4</text>
<text transform="translate(592.9 335.3) scale(1 1.05)" text-anchor="middle" font-size="9.85">LogC(nM)</text>
<text transform="translate(511.9 257.4) rotate(-90) scale(1 1.05)" text-anchor="middle" font-size="9.85">%CCK8s BRET response</text>
<text transform="translate(592.4 188.4) scale(1 1.05)" text-anchor="middle" font-size="9.85">G<tspan font-size="10.5">α</tspan><tspan font-size="7.5" dy="3.2">13</tspan></text>
<text transform="translate(505 177.6) scale(1 1.15)" font-size="9.2" font-weight="bold">H</text>
<path d="M532.9 201H542.4" stroke="#0433ff" stroke-width="2.2"/>
<circle cx="537.65" cy="201" r="2.2" fill="#0433ff"/>
<text transform="translate(545.2 204.83) scale(1 1.05)" font-size="9.85">CCK8s n=6</text>
<path d="M533.5 218.2H542.8" stroke="#ff2600" stroke-width="2.2"/>
<rect x="535.95" y="216" width="4.4" height="4.4" fill="#ff2600"/>
<text transform="translate(545.2 222.03) scale(1 1.05)" font-size="9.85">MF-8 n=5</text>
<path d="M66.57 475.09V484.96M63.77 475.09h5.6M63.77 484.96h5.6" stroke="#ff6a50" stroke-width="1" fill="none"/>
<path d="M95.27 469.56V475.48M92.47 469.56h5.6M92.47 475.48h5.6" stroke="#ff6a50" stroke-width="1" fill="none"/>
<path d="M114.41 463.93V473.8M111.61 463.93h5.6M111.61 473.8h5.6" stroke="#ff6a50" stroke-width="1" fill="none"/>
<path d="M123.97 437.76V453.56M121.17 437.76h5.6M121.17 453.56h5.6" stroke="#ff6a50" stroke-width="1" fill="none"/>
<path d="M133.54 412.38V426.21M130.74 412.38h5.6M130.74 426.21h5.6" stroke="#ff6a50" stroke-width="1" fill="none"/>
<path d="M143.11 401.72V419.49M140.31 401.72h5.6M140.31 419.49h5.6" stroke="#ff6a50" stroke-width="1" fill="none"/>
<polyline points="47.29,481.01 48.49,481.01 49.68,481.01 50.88,481.01 52.08,481.01 53.28,481.01 54.48,481.01 55.67,481.01 56.87,481.01 58.07,481.01 59.27,481.01 60.46,481.01 61.66,481.01 62.86,481.01 64.06,481.01 65.26,481.01 66.45,481.01 67.65,481.01 68.85,481.01 70.05,481 71.24,481 72.44,481 73.64,481 74.84,481 76.04,480.99 77.23,480.99 78.43,480.98 79.63,480.97 80.83,480.97 82.02,480.96 83.22,480.94 84.42,480.93 85.62,480.91 86.82,480.88 88.01,480.86 89.21,480.82 90.41,480.78 91.61,480.73 92.8,480.66 94,480.59 95.2,480.49 96.4,480.38 97.6,480.24 98.79,480.07 99.99,479.86 101.19,479.6 102.39,479.3 103.58,478.92 104.78,478.47 105.98,477.93 107.18,477.28 108.38,476.5 109.57,475.56 110.77,474.45 111.97,473.15 113.17,471.61 114.36,469.83 115.56,467.78 116.76,465.45 117.96,462.83 119.16,459.92 120.35,456.76 121.55,453.36 122.75,449.79 123.95,446.11 125.14,442.38 126.34,438.69 127.54,435.1 128.74,431.68 129.94,428.48 131.13,425.53 132.33,422.87 133.53,420.5 134.73,418.41 135.92,416.59 137.12,415.02 138.32,413.68 139.52,412.55 140.72,411.59 141.91,410.79 143.11,410.12" fill="none" stroke="#ff2600" stroke-width="2.6" stroke-linecap="round" stroke-linejoin="round"/>
<rect x="45.13" y="479.4" width="4.6" height="4.6" fill="#ff2600"/>
<rect x="54.7" y="479.21" width="4.6" height="4.6" fill="#ff2600"/>
<rect x="64.27" y="477.72" width="4.6" height="4.6" fill="#ff2600"/>
<rect x="73.83" y="478.71" width="4.6" height="4.6" fill="#ff2600"/>
<rect x="92.97" y="470.22" width="4.6" height="4.6" fill="#ff2600"/>
<rect x="112.11" y="466.57" width="4.6" height="4.6" fill="#ff2600"/>
<rect x="121.67" y="443.36" width="4.6" height="4.6" fill="#ff2600"/>
<rect x="131.24" y="416.99" width="4.6" height="4.6" fill="#ff2600"/>
<rect x="140.81" y="408.3" width="4.6" height="4.6" fill="#ff2600"/>
<path d="M47.43 475.29V479.24M44.63 475.29h5.6M44.63 479.24h5.6" stroke="#4a6bff" stroke-width="1" fill="none"/>
<path d="M76.13 473.01V478.94M73.33 473.01h5.6M73.33 478.94h5.6" stroke="#4a6bff" stroke-width="1" fill="none"/>
<path d="M85.7 447.63V467.38M82.9 447.63h5.6M82.9 467.38h5.6" stroke="#4a6bff" stroke-width="1" fill="none"/>
<path d="M95.27 418.5V440.23M92.47 418.5h5.6M92.47 440.23h5.6" stroke="#4a6bff" stroke-width="1" fill="none"/>
<path d="M104.84 411.89V419.79M102.04 411.89h5.6M102.04 419.79h5.6" stroke="#4a6bff" stroke-width="1" fill="none"/>
<path d="M114.41 386.61V392.53M111.61 386.61h5.6M111.61 392.53h5.6" stroke="#4a6bff" stroke-width="1" fill="none"/>
<path d="M123.97 379V394.8M121.17 379h5.6M121.17 394.8h5.6" stroke="#4a6bff" stroke-width="1" fill="none"/>
<path d="M133.54 381.57V395.4M130.74 381.57h5.6M130.74 395.4h5.6" stroke="#4a6bff" stroke-width="1" fill="none"/>
<path d="M143.11 383.94V389.87M140.31 383.94h5.6M140.31 389.87h5.6" stroke="#4a6bff" stroke-width="1" fill="none"/>
<polyline points="47.29,478.02 48.49,478.02 49.68,478.01 50.88,478 52.08,477.99 53.28,477.97 54.48,477.95 55.67,477.93 56.87,477.91 58.07,477.88 59.27,477.84 60.46,477.79 61.66,477.73 62.86,477.66 64.06,477.58 65.26,477.47 66.45,477.34 67.65,477.19 68.85,476.99 70.05,476.76 71.24,476.48 72.44,476.14 73.64,475.72 74.84,475.22 76.04,474.61 77.23,473.88 78.43,473 79.63,471.95 80.83,470.7 82.02,469.22 83.22,467.48 84.42,465.45 85.62,463.1 86.82,460.42 88.01,457.39 89.21,454.01 90.41,450.3 91.61,446.3 92.8,442.05 94,437.63 95.2,433.12 96.4,428.61 97.6,424.19 98.79,419.94 99.99,415.93 101.19,412.23 102.39,408.85 103.58,405.82 104.78,403.14 105.98,400.79 107.18,398.76 108.38,397.02 109.57,395.54 110.77,394.29 111.97,393.24 113.17,392.36 114.36,391.63 115.56,391.02 116.76,390.52 117.96,390.1 119.16,389.76 120.35,389.48 121.55,389.24 122.75,389.05 123.95,388.9 125.14,388.77 126.34,388.66 127.54,388.58 128.74,388.51 129.94,388.45 131.13,388.4 132.33,388.36 133.53,388.33 134.73,388.3 135.92,388.28 137.12,388.27 138.32,388.25 139.52,388.24 140.72,388.23 141.91,388.22 143.11,388.22" fill="none" stroke="#0433ff" stroke-width="2.6" stroke-linecap="round" stroke-linejoin="round"/>
<circle cx="47.43" cy="477.26" r="2.6" fill="#0433ff"/>
<circle cx="57" cy="480.72" r="2.6" fill="#0433ff"/>
<circle cx="66.57" cy="480.42" r="2.6" fill="#0433ff"/>
<circle cx="76.13" cy="475.98" r="2.6" fill="#0433ff"/>
<circle cx="85.7" cy="457.51" r="2.6" fill="#0433ff"/>
<circle cx="95.27" cy="429.37" r="2.6" fill="#0433ff"/>
<circle cx="104.84" cy="415.84" r="2.6" fill="#0433ff"/>
<circle cx="114.41" cy="389.57" r="2.6" fill="#0433ff"/>
<circle cx="123.97" cy="386.9" r="2.6" fill="#0433ff"/>
<circle cx="133.54" cy="388.48" r="2.6" fill="#0433ff"/>
<circle cx="143.11" cy="386.9" r="2.6" fill="#0433ff"/>
<rect x="33.6" y="363.5" width="123.2" height="118.5" fill="none" stroke="#000" stroke-width="1.5"/>
<path d="M30.3 482H33.6M30.3 432.62H33.6M30.3 383.25H33.6M31.4 465.54H33.6M31.4 449.08H33.6M31.4 416.17H33.6M31.4 399.71H33.6M31.4 366.79H33.6M33.6 482V485.2M60.98 482V485.2M88.36 482V485.2M115.73 482V485.2M143.11 482V485.2" stroke="#000" stroke-width="1.3" fill="none"/>
<text transform="translate(27.4 482) rotate(-90) scale(1 1.05)" text-anchor="middle" font-size="9.85">0</text>
<text transform="translate(27.4 432.62) rotate(-90) scale(1 1.05)" text-anchor="middle" font-size="9.85">50</text>
<text transform="translate(27.4 383.25) rotate(-90) scale(1 1.05)" text-anchor="middle" font-size="9.85">100</text>
<text transform="translate(33.6 496.5) scale(1 1.05)" text-anchor="middle" font-size="9.85">-4</text>
<text transform="translate(60.98 496.5) scale(1 1.05)" text-anchor="middle" font-size="9.85">-2</text>
<text transform="translate(88.36 496.5) scale(1 1.05)" text-anchor="middle" font-size="9.85">0</text>
<text transform="translate(115.73 496.5) scale(1 1.05)" text-anchor="middle" font-size="9.85">2</text>
<text transform="translate(143.11 496.5) scale(1 1.05)" text-anchor="middle" font-size="9.85">4</text>
<text transform="translate(95.2 504.9) scale(1 1.05)" text-anchor="middle" font-size="9.85">LogC(nM)</text>
<text transform="translate(14.2 427.05) rotate(-90) scale(1 1.05)" text-anchor="middle" font-size="9.85">%CCK8s BRET response</text>
<text transform="translate(94 354.5) scale(1 1.05)" text-anchor="middle" font-size="9.85">G<tspan font-size="10.5">α</tspan><tspan font-size="7.5" dy="3.2">ss</tspan></text>
<text transform="translate(21 344.2) scale(1 1.15)" font-size="9.2" font-weight="bold">I</text>
<path d="M36.1 369.2H45.1" stroke="#0433ff" stroke-width="2.2"/>
<circle cx="40.6" cy="369.2" r="2.2" fill="#0433ff"/>
<text transform="translate(47.6 373.03) scale(1 1.05)" font-size="9.85">CCK8s n=7</text>
<path d="M36.1 382.6H45.1" stroke="#ff2600" stroke-width="2.2"/>
<rect x="38.4" y="380.4" width="4.4" height="4.4" fill="#ff2600"/>
<text transform="translate(47.6 386.43) scale(1 1.05)" font-size="9.85">MF-8 n=7</text>
<path d="M217.33 476.05V481.8M214.53 476.05h5.6M214.53 481.8h5.6" stroke="#ff6a50" stroke-width="1" fill="none"/>
<path d="M265.17 479.21V483.05M262.37 479.21h5.6M262.37 483.05h5.6" stroke="#ff6a50" stroke-width="1" fill="none"/>
<path d="M274.74 477.97V481.8M271.94 477.97h5.6M271.94 481.8h5.6" stroke="#ff6a50" stroke-width="1" fill="none"/>
<path d="M284.31 477.01V480.84M281.51 477.01h5.6M281.51 480.84h5.6" stroke="#ff6a50" stroke-width="1" fill="none"/>
<path d="M293.87 474.14V479.88M291.07 474.14h5.6M291.07 479.88h5.6" stroke="#ff6a50" stroke-width="1" fill="none"/>
<path d="M303.44 472.79V480.46M300.64 472.79h5.6M300.64 480.46h5.6" stroke="#ff6a50" stroke-width="1" fill="none"/>
<path d="M313.01 475.09V482.76M310.21 475.09h5.6M310.21 482.76h5.6" stroke="#ff6a50" stroke-width="1" fill="none"/>
<polyline points="217.19,479.4 218.39,479.4 219.58,479.4 220.78,479.4 221.98,479.4 223.18,479.4 224.38,479.4 225.57,479.4 226.77,479.4 227.97,479.4 229.17,479.4 230.36,479.4 231.56,479.4 232.76,479.4 233.96,479.4 235.16,479.4 236.35,479.4 237.55,479.4 238.75,479.4 239.95,479.4 241.14,479.4 242.34,479.4 243.54,479.4 244.74,479.4 245.94,479.4 247.13,479.4 248.33,479.4 249.53,479.4 250.73,479.4 251.92,479.4 253.12,479.4 254.32,479.4 255.52,479.4 256.72,479.4 257.91,479.4 259.11,479.4 260.31,479.4 261.51,479.4 262.7,479.4 263.9,479.4 265.1,479.4 266.3,479.4 267.5,479.4 268.69,479.4 269.89,479.4 271.09,479.4 272.29,479.4 273.48,479.4 274.68,479.4 275.88,479.4 277.08,479.4 278.28,479.4 279.47,479.4 280.67,479.4 281.87,479.4 283.07,479.4 284.26,479.4 285.46,479.4 286.66,479.4 287.86,479.4 289.06,479.4 290.25,479.4 291.45,479.4 292.65,479.4 293.85,479.4 295.04,479.4 296.24,479.4 297.44,479.4 298.64,479.4 299.84,479.4 301.03,479.4 302.23,479.4 303.43,479.4 304.63,479.4 305.82,479.4 307.02,479.4 308.22,479.4 309.42,479.4 310.62,479.4 311.81,479.4 313.01,479.4" fill="none" stroke="#ff2600" stroke-width="2.6" stroke-linecap="round" stroke-linejoin="round"/>
<rect x="215.03" y="476.63" width="4.6" height="4.6" fill="#ff2600"/>
<rect x="224.6" y="477.01" width="4.6" height="4.6" fill="#ff2600"/>
<rect x="234.17" y="477.01" width="4.6" height="4.6" fill="#ff2600"/>
<rect x="243.73" y="477.01" width="4.6" height="4.6" fill="#ff2600"/>
<rect x="253.3" y="477.01" width="4.6" height="4.6" fill="#ff2600"/>
<rect x="262.87" y="478.83" width="4.6" height="4.6" fill="#ff2600"/>
<rect x="272.44" y="477.58" width="4.6" height="4.6" fill="#ff2600"/>
<rect x="282.01" y="476.63" width="4.6" height="4.6" fill="#ff2600"/>
<rect x="291.57" y="474.71" width="4.6" height="4.6" fill="#ff2600"/>
<rect x="301.14" y="474.33" width="4.6" height="4.6" fill="#ff2600"/>
<rect x="310.71" y="476.63" width="4.6" height="4.6" fill="#ff2600"/>
<path d="M217.33 468.67V482.09M214.53 468.67h5.6M214.53 482.09h5.6" stroke="#4a6bff" stroke-width="1" fill="none"/>
<path d="M226.9 476.05V479.88M224.1 476.05h5.6M224.1 479.88h5.6" stroke="#4a6bff" stroke-width="1" fill="none"/>
<path d="M236.47 477.39V481.23M233.67 477.39h5.6M233.67 481.23h5.6" stroke="#4a6bff" stroke-width="1" fill="none"/>
<path d="M246.03 477.39V481.23M243.23 477.39h5.6M243.23 481.23h5.6" stroke="#4a6bff" stroke-width="1" fill="none"/>
<path d="M255.6 470.21V477.87M252.8 470.21h5.6M252.8 477.87h5.6" stroke="#4a6bff" stroke-width="1" fill="none"/>
<path d="M265.17 463.5V467.33M262.37 463.5h5.6M262.37 467.33h5.6" stroke="#4a6bff" stroke-width="1" fill="none"/>
<path d="M274.74 462.93V478.26M271.94 462.93h5.6M271.94 478.26h5.6" stroke="#4a6bff" stroke-width="1" fill="none"/>
<path d="M284.31 456.6V475.76M281.51 456.6h5.6M281.51 475.76h5.6" stroke="#4a6bff" stroke-width="1" fill="none"/>
<path d="M293.87 423.84V439.17M291.07 423.84h5.6M291.07 439.17h5.6" stroke="#4a6bff" stroke-width="1" fill="none"/>
<path d="M303.44 397.01V410.42M300.64 397.01h5.6M300.64 410.42h5.6" stroke="#4a6bff" stroke-width="1" fill="none"/>
<polyline points="217.19,475.57 218.39,475.57 219.58,475.57 220.78,475.57 221.98,475.57 223.18,475.57 224.38,475.57 225.57,475.57 226.77,475.57 227.97,475.57 229.17,475.57 230.36,475.57 231.56,475.57 232.76,475.57 233.96,475.56 235.16,475.56 236.35,475.56 237.55,475.56 238.75,475.56 239.95,475.55 241.14,475.55 242.34,475.54 243.54,475.54 244.74,475.53 245.94,475.52 247.13,475.51 248.33,475.5 249.53,475.49 250.73,475.47 251.92,475.45 253.12,475.43 254.32,475.4 255.52,475.36 256.72,475.32 257.91,475.27 259.11,475.21 260.31,475.14 261.51,475.06 262.7,474.96 263.9,474.84 265.1,474.69 266.3,474.52 267.5,474.31 268.69,474.06 269.89,473.77 271.09,473.42 272.29,473 273.48,472.51 274.68,471.92 275.88,471.23 277.08,470.41 278.28,469.45 279.47,468.32 280.67,467.01 281.87,465.48 283.07,463.72 284.26,461.7 285.46,459.41 286.66,456.82 287.86,453.93 289.06,450.74 290.25,447.26 291.45,443.5 292.65,439.51 293.85,435.34 295.04,431.04 296.24,426.68 297.44,422.34 298.64,418.07 299.84,413.96 301.03,410.04 302.23,406.38 303.43,402.99 304.63,399.9 305.82,397.12 307.02,394.63 308.22,392.43 309.42,390.51 310.62,388.83 311.81,387.38 313.01,386.13" fill="none" stroke="#0433ff" stroke-width="2.6" stroke-linecap="round" stroke-linejoin="round"/>
<circle cx="217.33" cy="475.38" r="2.6" fill="#0433ff"/>
<circle cx="226.9" cy="477.97" r="2.6" fill="#0433ff"/>
<circle cx="236.47" cy="479.31" r="2.6" fill="#0433ff"/>
<circle cx="246.03" cy="479.31" r="2.6" fill="#0433ff"/>
<circle cx="255.6" cy="474.04" r="2.6" fill="#0433ff"/>
<circle cx="265.17" cy="465.42" r="2.6" fill="#0433ff"/>
<circle cx="274.74" cy="470.59" r="2.6" fill="#0433ff"/>
<circle cx="284.31" cy="466.18" r="2.6" fill="#0433ff"/>
<circle cx="293.87" cy="431.5" r="2.6" fill="#0433ff"/>
<circle cx="303.44" cy="403.72" r="2.6" fill="#0433ff"/>
<circle cx="313.01" cy="382.16" r="2.6" fill="#0433ff"/>
<rect x="203.5" y="363" width="123.2" height="118.8" fill="none" stroke="#000" stroke-width="1.5"/>
<path d="M200.2 477.97H203.5M200.2 430.06H203.5M200.2 382.16H203.5M201.3 462H203.5M201.3 446.03H203.5M201.3 414.1H203.5M201.3 398.13H203.5M201.3 366.19H203.5M203.5 481.8V485M230.88 481.8V485M258.26 481.8V485M285.63 481.8V485M313.01 481.8V485" stroke="#000" stroke-width="1.3" fill="none"/>
<text transform="translate(197.3 477.97) rotate(-90) scale(1 1.05)" text-anchor="middle" font-size="9.85">0</text>
<text transform="translate(197.3 430.06) rotate(-90) scale(1 1.05)" text-anchor="middle" font-size="9.85">50</text>
<text transform="translate(197.3 382.16) rotate(-90) scale(1 1.05)" text-anchor="middle" font-size="9.85">100</text>
<text transform="translate(203.5 496.3) scale(1 1.05)" text-anchor="middle" font-size="9.85">-4</text>
<text transform="translate(230.88 496.3) scale(1 1.05)" text-anchor="middle" font-size="9.85">-2</text>
<text transform="translate(258.26 496.3) scale(1 1.05)" text-anchor="middle" font-size="9.85">0</text>
<text transform="translate(285.63 496.3) scale(1 1.05)" text-anchor="middle" font-size="9.85">2</text>
<text transform="translate(313.01 496.3) scale(1 1.05)" text-anchor="middle" font-size="9.85">4</text>
<text transform="translate(265.1 504.7) scale(1 1.05)" text-anchor="middle" font-size="9.85">LogC(nM)</text>
<text transform="translate(184.1 426.7) rotate(-90) scale(1 1.05)" text-anchor="middle" font-size="9.85">%CCK8s BRET response</text>
<text transform="translate(264 355.8) scale(1 1.05)" text-anchor="middle" font-size="9.85">G<tspan font-size="10.5">α</tspan><tspan font-size="7.5" dy="3.2">sl</tspan></text>
<text transform="translate(180 345) scale(1 1.15)" font-size="9.2" font-weight="bold">J</text>
<path d="M205.6 369.2H214.8" stroke="#0433ff" stroke-width="2.2"/>
<circle cx="210.2" cy="369.2" r="2.2" fill="#0433ff"/>
<text transform="translate(217.4 373.03) scale(1 1.05)" font-size="9.85">CCK8s n=4</text>
<path d="M205.6 382.6H214.8" stroke="#ff2600" stroke-width="2.2"/>
<rect x="208" y="380.4" width="4.4" height="4.4" fill="#ff2600"/>
<text transform="translate(217.2 386.43) scale(1 1.05)" font-size="9.85">MF-8 n=4</text>
<path d="M391.37 475.33V479.29M388.57 475.33h5.6M388.57 479.29h5.6" stroke="#ff6a50" stroke-width="1" fill="none"/>
<path d="M394.11 476.12V480.08M391.31 476.12h5.6M391.31 480.08h5.6" stroke="#ff6a50" stroke-width="1" fill="none"/>
<path d="M400.41 471.76V475.72M397.61 471.76h5.6M397.61 475.72h5.6" stroke="#ff6a50" stroke-width="1" fill="none"/>
<path d="M404.24 471.07V475.03M401.44 471.07h5.6M401.44 475.03h5.6" stroke="#ff6a50" stroke-width="1" fill="none"/>
<path d="M410.81 468.2V472.16M408.01 468.2h5.6M408.01 472.16h5.6" stroke="#ff6a50" stroke-width="1" fill="none"/>
<path d="M414.37 471.76V475.72M411.57 471.76h5.6M411.57 475.72h5.6" stroke="#ff6a50" stroke-width="1" fill="none"/>
<path d="M432.71 463.94V477.8M429.91 463.94h5.6M429.91 477.8h5.6" stroke="#ff6a50" stroke-width="1" fill="none"/>
<path d="M439.28 449.09V458.99M436.48 449.09h5.6M436.48 458.99h5.6" stroke="#ff6a50" stroke-width="1" fill="none"/>
<path d="M442.16 441.77V451.67M439.36 441.77h5.6M439.36 451.67h5.6" stroke="#ff6a50" stroke-width="1" fill="none"/>
<path d="M448.73 428.6V438.5M445.93 428.6h5.6M445.93 438.5h5.6" stroke="#ff6a50" stroke-width="1" fill="none"/>
<path d="M451.6 424.24V430.18M448.8 424.24h5.6M448.8 430.18h5.6" stroke="#ff6a50" stroke-width="1" fill="none"/>
<path d="M458.31 397.22V417.02M455.51 397.22h5.6M455.51 417.02h5.6" stroke="#ff6a50" stroke-width="1" fill="none"/>
<path d="M462.01 403.85V423.65M459.21 403.85h5.6M459.21 423.65h5.6" stroke="#ff6a50" stroke-width="1" fill="none"/>
<path d="M467.76 400.68V410.58M464.96 400.68h5.6M464.96 410.58h5.6" stroke="#ff6a50" stroke-width="1" fill="none"/>
<path d="M470.77 398.5V414.34M467.97 398.5h5.6M467.97 414.34h5.6" stroke="#ff6a50" stroke-width="1" fill="none"/>
<path d="M477.34 392.96V400.88M474.54 392.96h5.6M474.54 400.88h5.6" stroke="#ff6a50" stroke-width="1" fill="none"/>
<polyline points="381.79,478.1 382.99,478.1 384.18,478.1 385.38,478.1 386.58,478.1 387.78,478.1 388.98,478.1 390.17,478.09 391.37,478.09 392.57,478.09 393.77,478.09 394.96,478.09 396.16,478.08 397.36,478.08 398.56,478.08 399.76,478.07 400.95,478.07 402.15,478.06 403.35,478.05 404.55,478.04 405.74,478.02 406.94,478.01 408.14,477.99 409.34,477.96 410.54,477.93 411.73,477.89 412.93,477.85 414.13,477.79 415.33,477.72 416.52,477.64 417.72,477.54 418.92,477.42 420.12,477.27 421.32,477.08 422.51,476.86 423.71,476.59 424.91,476.26 426.11,475.86 427.3,475.37 428.5,474.79 429.7,474.09 430.9,473.26 432.1,472.26 433.29,471.08 434.49,469.69 435.69,468.06 436.89,466.17 438.08,464.01 439.28,461.56 440.48,458.81 441.68,455.78 442.88,452.5 444.07,448.99 445.27,445.33 446.47,441.56 447.67,437.78 448.86,434.05 450.06,430.44 451.26,427.03 452.46,423.85 453.66,420.94 454.85,418.32 456.05,415.99 457.25,413.94 458.45,412.17 459.64,410.65 460.84,409.35 462.04,408.25 463.24,407.33 464.44,406.55 465.63,405.9 466.83,405.37 468.03,404.92 469.23,404.55 470.42,404.25 471.62,404 472.82,403.8 474.02,403.63 475.22,403.49 476.41,403.37 477.61,403.28" fill="none" stroke="#ff2600" stroke-width="2.6" stroke-linecap="round" stroke-linejoin="round"/>
<rect x="389.07" y="475.01" width="4.6" height="4.6" fill="#ff2600"/>
<rect x="391.81" y="475.8" width="4.6" height="4.6" fill="#ff2600"/>
<rect x="398.11" y="471.44" width="4.6" height="4.6" fill="#ff2600"/>
<rect x="401.94" y="470.75" width="4.6" height="4.6" fill="#ff2600"/>
<rect x="408.51" y="467.88" width="4.6" height="4.6" fill="#ff2600"/>
<rect x="412.07" y="471.44" width="4.6" height="4.6" fill="#ff2600"/>
<rect x="430.41" y="468.57" width="4.6" height="4.6" fill="#ff2600"/>
<rect x="436.98" y="451.74" width="4.6" height="4.6" fill="#ff2600"/>
<rect x="439.86" y="444.42" width="4.6" height="4.6" fill="#ff2600"/>
<rect x="446.43" y="431.25" width="4.6" height="4.6" fill="#ff2600"/>
<rect x="449.3" y="424.91" width="4.6" height="4.6" fill="#ff2600"/>
<rect x="456.01" y="404.82" width="4.6" height="4.6" fill="#ff2600"/>
<rect x="459.71" y="411.45" width="4.6" height="4.6" fill="#ff2600"/>
<rect x="465.46" y="403.33" width="4.6" height="4.6" fill="#ff2600"/>
<rect x="468.47" y="404.12" width="4.6" height="4.6" fill="#ff2600"/>
<rect x="475.04" y="394.62" width="4.6" height="4.6" fill="#ff2600"/>
<path d="M391.5 474.83V478.79M388.7 474.83h5.6M388.7 478.79h5.6" stroke="#4a6bff" stroke-width="1" fill="none"/>
<path d="M420.2 442.16V458M417.4 442.16h5.6M417.4 458h5.6" stroke="#4a6bff" stroke-width="1" fill="none"/>
<path d="M429.77 417.91V433.75M426.97 417.91h5.6M426.97 433.75h5.6" stroke="#4a6bff" stroke-width="1" fill="none"/>
<path d="M448.91 383.26V389.2M446.11 383.26h5.6M446.11 389.2h5.6" stroke="#4a6bff" stroke-width="1" fill="none"/>
<path d="M458.47 382.47V388.41M455.67 382.47h5.6M455.67 388.41h5.6" stroke="#4a6bff" stroke-width="1" fill="none"/>
<path d="M468.04 381.08V387.02M465.24 381.08h5.6M465.24 387.02h5.6" stroke="#4a6bff" stroke-width="1" fill="none"/>
<polyline points="381.79,477.07 382.99,477.06 384.18,477.05 385.38,477.03 386.58,477.02 387.78,477 388.98,476.97 390.17,476.94 391.37,476.9 392.57,476.86 393.77,476.8 394.96,476.73 396.16,476.65 397.36,476.54 398.56,476.42 399.76,476.26 400.95,476.08 402.15,475.85 403.35,475.57 404.55,475.24 405.74,474.83 406.94,474.34 408.14,473.74 409.34,473.02 410.54,472.16 411.73,471.12 412.93,469.89 414.13,468.43 415.33,466.7 416.52,464.69 417.72,462.36 418.92,459.68 420.12,456.65 421.32,453.25 422.51,449.51 423.71,445.44 424.91,441.11 426.11,436.57 427.3,431.92 428.5,427.24 429.7,422.62 430.9,418.17 432.1,413.94 433.29,410.01 434.49,406.41 435.69,403.17 436.89,400.29 438.08,397.76 439.28,395.57 440.48,393.68 441.68,392.08 442.88,390.72 444.07,389.57 445.27,388.61 446.47,387.82 447.67,387.15 448.86,386.6 450.06,386.15 451.26,385.77 452.46,385.46 453.66,385.21 454.85,385 456.05,384.83 457.25,384.69 458.45,384.57 459.64,384.48 460.84,384.4 462.04,384.34 463.24,384.28 464.44,384.24 465.63,384.21 466.83,384.18 468.03,384.15 469.23,384.14 470.42,384.12 471.62,384.11 472.82,384.1 474.02,384.09 475.22,384.08 476.41,384.08 477.61,384.07" fill="none" stroke="#0433ff" stroke-width="2.6" stroke-linecap="round" stroke-linejoin="round"/>
<circle cx="381.93" cy="474.64" r="2.6" fill="#0433ff"/>
<circle cx="391.5" cy="476.81" r="2.6" fill="#0433ff"/>
<circle cx="401.07" cy="476.81" r="2.6" fill="#0433ff"/>
<circle cx="410.63" cy="477.31" r="2.6" fill="#0433ff"/>
<circle cx="420.2" cy="450.08" r="2.6" fill="#0433ff"/>
<circle cx="429.77" cy="425.83" r="2.6" fill="#0433ff"/>
<circle cx="439.34" cy="397.32" r="2.6" fill="#0433ff"/>
<circle cx="448.91" cy="386.23" r="2.6" fill="#0433ff"/>
<circle cx="458.47" cy="385.44" r="2.6" fill="#0433ff"/>
<circle cx="468.04" cy="384.05" r="2.6" fill="#0433ff"/>
<circle cx="477.61" cy="379.6" r="2.6" fill="#0433ff"/>
<rect x="368.1" y="359.3" width="123.2" height="118.8" fill="none" stroke="#000" stroke-width="1.5"/>
<path d="M364.8 478.1H368.1M364.8 428.6H368.1M364.8 379.1H368.1M365.9 461.6H368.1M365.9 445.1H368.1M365.9 412.1H368.1M365.9 395.6H368.1M365.9 362.6H368.1M368.1 478.1V481.3M395.48 478.1V481.3M422.86 478.1V481.3M450.23 478.1V481.3M477.61 478.1V481.3" stroke="#000" stroke-width="1.3" fill="none"/>
<text transform="translate(361.9 478.1) rotate(-90) scale(1 1.05)" text-anchor="middle" font-size="9.85">0</text>
<text transform="translate(361.9 428.6) rotate(-90) scale(1 1.05)" text-anchor="middle" font-size="9.85">50</text>
<text transform="translate(361.9 379.1) rotate(-90) scale(1 1.05)" text-anchor="middle" font-size="9.85">100</text>
<text transform="translate(368.1 492.6) scale(1 1.05)" text-anchor="middle" font-size="9.85">-4</text>
<text transform="translate(395.48 492.6) scale(1 1.05)" text-anchor="middle" font-size="9.85">-2</text>
<text transform="translate(422.86 492.6) scale(1 1.05)" text-anchor="middle" font-size="9.85">0</text>
<text transform="translate(450.23 492.6) scale(1 1.05)" text-anchor="middle" font-size="9.85">2</text>
<text transform="translate(477.61 492.6) scale(1 1.05)" text-anchor="middle" font-size="9.85">4</text>
<text transform="translate(429.7 501) scale(1 1.05)" text-anchor="middle" font-size="9.85">LogC(nM)</text>
<text transform="translate(349.1 423) rotate(-90) scale(1 1.05)" text-anchor="middle" font-size="9.85">%CCK8s BRET response</text>
<text transform="translate(428.7 353.7) scale(1 1.05)" text-anchor="middle" font-size="9.85">G<tspan font-size="10.5">α</tspan><tspan font-size="7.5" dy="3.2">q</tspan></text>
<text transform="translate(340 345) scale(1 1.15)" font-size="9.2" font-weight="bold">K</text>
<path d="M373.1 366.9H382.2" stroke="#0433ff" stroke-width="2.2"/>
<circle cx="377.65" cy="366.9" r="2.2" fill="#0433ff"/>
<text transform="translate(385 370.73) scale(1 1.05)" font-size="9.85">CCK8s n=4</text>
<path d="M373.1 381.5H382.2" stroke="#ff2600" stroke-width="2.2"/>
<rect x="375.45" y="379.3" width="4.4" height="4.4" fill="#ff2600"/>
<text transform="translate(385.2 385.33) scale(1 1.05)" font-size="9.85">MF-8 n=6</text>
<path d="M544.99 469.37V475.31M542.19 469.37h5.6M542.19 475.31h5.6" stroke="#ff6a50" stroke-width="1" fill="none"/>
<path d="M554.57 468.28V474.22M551.77 468.28h5.6M551.77 474.22h5.6" stroke="#ff6a50" stroke-width="1" fill="none"/>
<path d="M557.31 469.37V475.31M554.51 469.37h5.6M554.51 475.31h5.6" stroke="#ff6a50" stroke-width="1" fill="none"/>
<path d="M583.32 470.36V474.32M580.52 470.36h5.6M580.52 474.32h5.6" stroke="#ff6a50" stroke-width="1" fill="none"/>
<path d="M586.33 469.77V473.73M583.53 469.77h5.6M583.53 473.73h5.6" stroke="#ff6a50" stroke-width="1" fill="none"/>
<path d="M592.9 458.98V468.88M590.1 458.98h5.6M590.1 468.88h5.6" stroke="#ff6a50" stroke-width="1" fill="none"/>
<path d="M595.64 449.47V473.23M592.84 449.47h5.6M592.84 473.23h5.6" stroke="#ff6a50" stroke-width="1" fill="none"/>
<path d="M602.48 441.95V451.85M599.68 441.95h5.6M599.68 451.85h5.6" stroke="#ff6a50" stroke-width="1" fill="none"/>
<path d="M605.22 435.42V445.31M602.42 435.42h5.6M602.42 445.31h5.6" stroke="#ff6a50" stroke-width="1" fill="none"/>
<path d="M612.06 430.07V436.01M609.26 430.07h5.6M609.26 436.01h5.6" stroke="#ff6a50" stroke-width="1" fill="none"/>
<path d="M614.8 413.83V419.77M612 413.83h5.6M612 419.77h5.6" stroke="#ff6a50" stroke-width="1" fill="none"/>
<path d="M621.65 415.91V421.85M618.85 415.91h5.6M618.85 421.85h5.6" stroke="#ff6a50" stroke-width="1" fill="none"/>
<path d="M624.38 403.34V409.28M621.58 403.34h5.6M621.58 409.28h5.6" stroke="#ff6a50" stroke-width="1" fill="none"/>
<path d="M631.23 409.68V417.59M628.43 409.68h5.6M628.43 417.59h5.6" stroke="#ff6a50" stroke-width="1" fill="none"/>
<path d="M633.97 395.12V414.92M631.17 395.12h5.6M631.17 414.92h5.6" stroke="#ff6a50" stroke-width="1" fill="none"/>
<path d="M640.81 406.61V416.51M638.01 406.61h5.6M638.01 416.51h5.6" stroke="#ff6a50" stroke-width="1" fill="none"/>
<path d="M643.55 391.66V409.48M640.75 391.66h5.6M640.75 409.48h5.6" stroke="#ff6a50" stroke-width="1" fill="none"/>
<polyline points="544.99,475.01 546.19,475.01 547.38,475.01 548.58,475.01 549.78,475.01 550.98,475.01 552.18,475 553.37,475 554.57,475 555.77,474.99 556.97,474.99 558.16,474.98 559.36,474.98 560.56,474.97 561.76,474.96 562.96,474.95 564.15,474.93 565.35,474.91 566.55,474.89 567.75,474.86 568.94,474.82 570.14,474.78 571.34,474.73 572.54,474.67 573.74,474.59 574.93,474.5 576.13,474.38 577.33,474.24 578.53,474.07 579.72,473.86 580.92,473.61 582.12,473.31 583.32,472.94 584.52,472.49 585.71,471.95 586.91,471.3 588.11,470.53 589.31,469.61 590.5,468.52 591.7,467.24 592.9,465.74 594.1,464 595.3,462.02 596.49,459.77 597.69,457.25 598.89,454.49 600.09,451.5 601.28,448.32 602.48,444.99 603.68,441.6 604.88,438.19 606.08,434.84 607.27,431.61 608.47,428.56 609.67,425.73 610.87,423.14 612.06,420.81 613.26,418.75 614.46,416.95 615.66,415.38 616.86,414.04 618.05,412.9 619.25,411.93 620.45,411.12 621.65,410.44 622.84,409.87 624.04,409.4 625.24,409.01 626.44,408.68 627.64,408.42 628.83,408.2 630.03,408.02 631.23,407.87 632.43,407.75 633.62,407.65 634.82,407.57 636.02,407.5 637.22,407.45 638.42,407.4 639.61,407.37 640.81,407.34" fill="none" stroke="#ff2600" stroke-width="2.6" stroke-linecap="round" stroke-linejoin="round"/>
<rect x="542.69" y="470.04" width="4.6" height="4.6" fill="#ff2600"/>
<rect x="552.27" y="468.95" width="4.6" height="4.6" fill="#ff2600"/>
<rect x="555.01" y="470.04" width="4.6" height="4.6" fill="#ff2600"/>
<rect x="581.02" y="470.04" width="4.6" height="4.6" fill="#ff2600"/>
<rect x="584.03" y="469.45" width="4.6" height="4.6" fill="#ff2600"/>
<rect x="590.6" y="461.63" width="4.6" height="4.6" fill="#ff2600"/>
<rect x="593.34" y="459.05" width="4.6" height="4.6" fill="#ff2600"/>
<rect x="600.18" y="444.6" width="4.6" height="4.6" fill="#ff2600"/>
<rect x="602.92" y="438.06" width="4.6" height="4.6" fill="#ff2600"/>
<rect x="609.76" y="430.74" width="4.6" height="4.6" fill="#ff2600"/>
<rect x="612.5" y="414.5" width="4.6" height="4.6" fill="#ff2600"/>
<rect x="619.35" y="416.58" width="4.6" height="4.6" fill="#ff2600"/>
<rect x="622.08" y="404.01" width="4.6" height="4.6" fill="#ff2600"/>
<rect x="628.93" y="411.33" width="4.6" height="4.6" fill="#ff2600"/>
<rect x="631.67" y="402.72" width="4.6" height="4.6" fill="#ff2600"/>
<rect x="638.51" y="409.26" width="4.6" height="4.6" fill="#ff2600"/>
<rect x="641.25" y="398.27" width="4.6" height="4.6" fill="#ff2600"/>
<path d="M545.13 468.38V476.3M542.33 468.38h5.6M542.33 476.3h5.6" stroke="#4a6bff" stroke-width="1" fill="none"/>
<path d="M554.7 469.77V473.73M551.9 469.77h5.6M551.9 473.73h5.6" stroke="#4a6bff" stroke-width="1" fill="none"/>
<path d="M564.27 464.62V472.54M561.47 464.62h5.6M561.47 472.54h5.6" stroke="#4a6bff" stroke-width="1" fill="none"/>
<path d="M573.83 454.72V458.68M571.03 454.72h5.6M571.03 458.68h5.6" stroke="#4a6bff" stroke-width="1" fill="none"/>
<path d="M583.4 415.81V437.59M580.6 415.81h5.6M580.6 437.59h5.6" stroke="#4a6bff" stroke-width="1" fill="none"/>
<path d="M592.97 398.78V420.56M590.17 398.78h5.6M590.17 420.56h5.6" stroke="#4a6bff" stroke-width="1" fill="none"/>
<path d="M602.54 387.2V395.12M599.74 387.2h5.6M599.74 395.12h5.6" stroke="#4a6bff" stroke-width="1" fill="none"/>
<path d="M621.67 381.46V387.4M618.87 381.46h5.6M618.87 387.4h5.6" stroke="#4a6bff" stroke-width="1" fill="none"/>
<path d="M640.81 383.44V391.36M638.01 383.44h5.6M638.01 391.36h5.6" stroke="#4a6bff" stroke-width="1" fill="none"/>
<polyline points="544.99,472.42 546.19,472.39 547.38,472.36 548.58,472.32 549.78,472.27 550.98,472.21 552.18,472.13 553.37,472.04 554.57,471.93 555.77,471.8 556.97,471.64 558.16,471.44 559.36,471.2 560.56,470.9 561.76,470.54 562.96,470.11 564.15,469.59 565.35,468.96 566.55,468.2 567.75,467.29 568.94,466.2 570.14,464.91 571.34,463.39 572.54,461.61 573.74,459.54 574.93,457.15 576.13,454.44 577.33,451.39 578.53,448.01 579.72,444.33 580.92,440.39 582.12,436.24 583.32,431.95 584.52,427.62 585.71,423.32 586.91,419.14 588.11,415.17 589.31,411.44 590.5,408.02 591.7,404.93 592.9,402.17 594.1,399.73 595.3,397.62 596.49,395.8 597.69,394.24 598.89,392.92 600.09,391.81 601.28,390.87 602.48,390.09 603.68,389.44 604.88,388.91 606.08,388.46 607.27,388.09 608.47,387.79 609.67,387.54 610.87,387.34 612.06,387.17 613.26,387.03 614.46,386.92 615.66,386.83 616.86,386.75 618.05,386.69 619.25,386.64 620.45,386.6 621.65,386.56 622.84,386.54 624.04,386.51 625.24,386.49 626.44,386.48 627.64,386.47 628.83,386.46 630.03,386.45 631.23,386.44 632.43,386.43 633.62,386.43 634.82,386.43 636.02,386.42 637.22,386.42 638.42,386.42 639.61,386.42 640.81,386.42" fill="none" stroke="#0433ff" stroke-width="2.6" stroke-linecap="round" stroke-linejoin="round"/>
<circle cx="545.13" cy="472.34" r="2.6" fill="#0433ff"/>
<circle cx="554.7" cy="471.75" r="2.6" fill="#0433ff"/>
<circle cx="564.27" cy="468.58" r="2.6" fill="#0433ff"/>
<circle cx="573.83" cy="456.7" r="2.6" fill="#0433ff"/>
<circle cx="583.4" cy="426.7" r="2.6" fill="#0433ff"/>
<circle cx="592.97" cy="409.68" r="2.6" fill="#0433ff"/>
<circle cx="602.54" cy="391.16" r="2.6" fill="#0433ff"/>
<circle cx="612.11" cy="384.43" r="2.6" fill="#0433ff"/>
<circle cx="621.67" cy="384.43" r="2.6" fill="#0433ff"/>
<circle cx="631.24" cy="386.71" r="2.6" fill="#0433ff"/>
<circle cx="640.81" cy="387.4" r="2.6" fill="#0433ff"/>
<rect x="531.3" y="357.7" width="123.2" height="118.8" fill="none" stroke="#000" stroke-width="1.5"/>
<path d="M528 476.5H531.3M528 427H531.3M528 377.5H531.3M529.1 460H531.3M529.1 443.5H531.3M529.1 410.5H531.3M529.1 394H531.3M529.1 361H531.3M531.3 476.5V479.7M558.68 476.5V479.7M586.06 476.5V479.7M613.43 476.5V479.7M640.81 476.5V479.7" stroke="#000" stroke-width="1.3" fill="none"/>
<text transform="translate(525.1 476.5) rotate(-90) scale(1 1.05)" text-anchor="middle" font-size="9.85">0</text>
<text transform="translate(525.1 427) rotate(-90) scale(1 1.05)" text-anchor="middle" font-size="9.85">50</text>
<text transform="translate(525.1 377.5) rotate(-90) scale(1 1.05)" text-anchor="middle" font-size="9.85">100</text>
<text transform="translate(531.3 491) scale(1 1.05)" text-anchor="middle" font-size="9.85">-4</text>
<text transform="translate(558.68 491) scale(1 1.05)" text-anchor="middle" font-size="9.85">-2</text>
<text transform="translate(586.06 491) scale(1 1.05)" text-anchor="middle" font-size="9.85">0</text>
<text transform="translate(613.43 491) scale(1 1.05)" text-anchor="middle" font-size="9.85">2</text>
<text transform="translate(640.81 491) scale(1 1.05)" text-anchor="middle" font-size="9.85">4</text>
<text transform="translate(592.9 499.4) scale(1 1.05)" text-anchor="middle" font-size="9.85">LogC(nM)</text>
<text transform="translate(511.9 421.4) rotate(-90) scale(1 1.05)" text-anchor="middle" font-size="9.85">%CCK8s BRET response</text>
<text transform="translate(591.9 351.1) scale(1 1.05)" text-anchor="middle" font-size="9.85">G<tspan font-size="10.5">α</tspan><tspan font-size="7.5" dy="3.2">11</tspan></text>
<text transform="translate(505 345) scale(1 1.15)" font-size="9.2" font-weight="bold">L</text>
<path d="M534.9 364.9H544.1" stroke="#0433ff" stroke-width="2.2"/>
<circle cx="539.5" cy="364.9" r="2.2" fill="#0433ff"/>
<text transform="translate(546.7 368.73) scale(1 1.05)" font-size="9.85">CCK8s n=7</text>
<path d="M534.9 376.6H544.1" stroke="#ff2600" stroke-width="2.2"/>
<rect x="537.3" y="374.4" width="4.4" height="4.4" fill="#ff2600"/>
<text transform="translate(546.9 380.43) scale(1 1.05)" font-size="9.85">MF-8 n=4</text>
<path d="M59.24 678.63V682.87M56.44 678.63h5.6M56.44 682.87h5.6" stroke="#ff6a50" stroke-width="1" fill="none"/>
<path d="M68.46 675.45V679.69M65.66 675.45h5.6M65.66 679.69h5.6" stroke="#ff6a50" stroke-width="1" fill="none"/>
<path d="M77.69 674.6V678.84M74.89 674.6h5.6M74.89 678.84h5.6" stroke="#ff6a50" stroke-width="1" fill="none"/>
<path d="M86.92 670.57V674.81M84.12 670.57h5.6M84.12 674.81h5.6" stroke="#ff6a50" stroke-width="1" fill="none"/>
<path d="M96.14 662.73V666.97M93.34 662.73h5.6M93.34 666.97h5.6" stroke="#ff6a50" stroke-width="1" fill="none"/>
<path d="M105.37 658.7V667.18M102.57 658.7h5.6M102.57 667.18h5.6" stroke="#ff6a50" stroke-width="1" fill="none"/>
<path d="M114.59 647.04V659.76M111.79 647.04h5.6M111.79 659.76h5.6" stroke="#ff6a50" stroke-width="1" fill="none"/>
<path d="M123.82 638.14V650.86M121.02 638.14h5.6M121.02 650.86h5.6" stroke="#ff6a50" stroke-width="1" fill="none"/>
<path d="M133.05 630.5V651.7M130.25 630.5h5.6M130.25 651.7h5.6" stroke="#ff6a50" stroke-width="1" fill="none"/>
<path d="M142.27 619.69V645.13M139.47 619.69h5.6M139.47 645.13h5.6" stroke="#ff6a50" stroke-width="1" fill="none"/>
<path d="M151.5 622.66V643.86M148.7 622.66h5.6M148.7 643.86h5.6" stroke="#ff6a50" stroke-width="1" fill="none"/>
<polyline points="59.1,675.23 60.25,675.23 61.41,675.23 62.56,675.23 63.72,675.23 64.88,675.22 66.03,675.22 67.19,675.22 68.34,675.21 69.5,675.21 70.65,675.2 71.8,675.19 72.96,675.18 74.11,675.17 75.27,675.15 76.42,675.14 77.58,675.11 78.73,675.09 79.89,675.05 81.04,675.01 82.2,674.96 83.35,674.9 84.51,674.83 85.66,674.74 86.82,674.63 87.97,674.5 89.13,674.34 90.28,674.14 91.44,673.91 92.59,673.62 93.75,673.28 94.91,672.87 96.06,672.38 97.22,671.8 98.37,671.11 99.53,670.31 100.68,669.38 101.83,668.3 102.99,667.08 104.14,665.71 105.3,664.19 106.45,662.53 107.61,660.75 108.77,658.88 109.92,656.95 111.07,655 112.23,653.07 113.38,651.18 114.54,649.39 115.69,647.72 116.85,646.17 118,644.78 119.16,643.54 120.31,642.44 121.47,641.49 122.62,640.67 123.78,639.97 124.94,639.37 126.09,638.87 127.24,638.45 128.4,638.1 129.56,637.81 130.71,637.56 131.87,637.36 133.02,637.2 134.17,637.06 135.33,636.95 136.48,636.86 137.64,636.78 138.79,636.72 139.95,636.67 141.1,636.63 142.26,636.59 143.41,636.57 144.57,636.54 145.72,636.52 146.88,636.51 148.03,636.5 149.19,636.49 150.34,636.48 151.5,636.47" fill="none" stroke="#ff2600" stroke-width="2.6" stroke-linecap="round" stroke-linejoin="round"/>
<circle cx="59.24" cy="680.75" r="2.6" fill="#ff2600"/>
<circle cx="68.46" cy="677.57" r="2.6" fill="#ff2600"/>
<circle cx="77.69" cy="676.72" r="2.6" fill="#ff2600"/>
<circle cx="86.92" cy="672.69" r="2.6" fill="#ff2600"/>
<circle cx="96.14" cy="664.85" r="2.6" fill="#ff2600"/>
<circle cx="105.37" cy="662.94" r="2.6" fill="#ff2600"/>
<circle cx="114.59" cy="653.4" r="2.6" fill="#ff2600"/>
<circle cx="123.82" cy="644.5" r="2.6" fill="#ff2600"/>
<circle cx="133.05" cy="641.1" r="2.6" fill="#ff2600"/>
<circle cx="142.27" cy="632.41" r="2.6" fill="#ff2600"/>
<circle cx="151.5" cy="633.26" r="2.6" fill="#ff2600"/>
<path d="M59.24 682.02V686.26M56.44 682.02h5.6M56.44 686.26h5.6" stroke="#4a6bff" stroke-width="1" fill="none"/>
<path d="M68.46 679.9V684.14M65.66 679.9h5.6M65.66 684.14h5.6" stroke="#4a6bff" stroke-width="1" fill="none"/>
<path d="M86.92 668.03V672.27M84.12 668.03h5.6M84.12 672.27h5.6" stroke="#4a6bff" stroke-width="1" fill="none"/>
<path d="M96.14 670.57V674.81M93.34 670.57h5.6M93.34 674.81h5.6" stroke="#4a6bff" stroke-width="1" fill="none"/>
<path d="M105.37 668.03V672.27M102.57 668.03h5.6M102.57 672.27h5.6" stroke="#4a6bff" stroke-width="1" fill="none"/>
<path d="M114.59 655.94V668.66M111.79 655.94h5.6M111.79 668.66h5.6" stroke="#4a6bff" stroke-width="1" fill="none"/>
<path d="M123.82 642.38V663.58M121.02 642.38h5.6M121.02 663.58h5.6" stroke="#4a6bff" stroke-width="1" fill="none"/>
<path d="M133.05 627.96V649.16M130.25 627.96h5.6M130.25 649.16h5.6" stroke="#4a6bff" stroke-width="1" fill="none"/>
<path d="M142.27 618.42V648.1M139.47 618.42h5.6M139.47 648.1h5.6" stroke="#4a6bff" stroke-width="1" fill="none"/>
<path d="M151.5 624.14V641.1M148.7 624.14h5.6M148.7 641.1h5.6" stroke="#4a6bff" stroke-width="1" fill="none"/>
<polyline points="59.1,676.72 60.25,676.72 61.41,676.72 62.56,676.72 63.72,676.72 64.88,676.72 66.03,676.72 67.19,676.71 68.34,676.71 69.5,676.71 70.65,676.71 71.8,676.71 72.96,676.71 74.11,676.7 75.27,676.7 76.42,676.69 77.58,676.69 78.73,676.68 79.89,676.67 81.04,676.66 82.2,676.65 83.35,676.63 84.51,676.61 85.66,676.59 86.82,676.56 87.97,676.52 89.13,676.48 90.28,676.42 91.44,676.35 92.59,676.27 93.75,676.18 94.91,676.06 96.06,675.91 97.22,675.74 98.37,675.52 99.53,675.26 100.68,674.95 101.83,674.58 102.99,674.13 104.14,673.6 105.3,672.96 106.45,672.21 107.61,671.34 108.77,670.32 109.92,669.16 111.07,667.83 112.23,666.35 113.38,664.7 114.54,662.92 115.69,661.01 116.85,659 118,656.94 119.16,654.86 120.31,652.8 121.47,650.81 122.62,648.92 123.78,647.15 124.94,645.53 126.09,644.07 127.24,642.77 128.4,641.62 129.56,640.63 130.71,639.77 131.87,639.04 133.02,638.42 134.17,637.9 135.33,637.46 136.48,637.1 137.64,636.8 138.79,636.55 139.95,636.34 141.1,636.17 142.26,636.02 143.41,635.91 144.57,635.81 145.72,635.73 146.88,635.67 148.03,635.62 149.19,635.57 150.34,635.54 151.5,635.51" fill="none" stroke="#0433ff" stroke-width="2.6" stroke-linecap="round" stroke-linejoin="round"/>
<rect x="56.94" y="681.84" width="4.6" height="4.6" fill="#0433ff"/>
<rect x="66.16" y="679.72" width="4.6" height="4.6" fill="#0433ff"/>
<rect x="84.62" y="667.85" width="4.6" height="4.6" fill="#0433ff"/>
<rect x="93.84" y="670.39" width="4.6" height="4.6" fill="#0433ff"/>
<rect x="103.07" y="667.85" width="4.6" height="4.6" fill="#0433ff"/>
<rect x="112.29" y="660" width="4.6" height="4.6" fill="#0433ff"/>
<rect x="121.52" y="650.68" width="4.6" height="4.6" fill="#0433ff"/>
<rect x="130.75" y="636.26" width="4.6" height="4.6" fill="#0433ff"/>
<rect x="139.97" y="630.96" width="4.6" height="4.6" fill="#0433ff"/>
<rect x="149.2" y="630.32" width="4.6" height="4.6" fill="#0433ff"/>
<rect x="45.9" y="558" width="132" height="127.2" fill="none" stroke="#000" stroke-width="1.5"/>
<path d="M42.6 685.2H45.9M42.6 642.8H45.9M42.6 600.4H45.9M42.6 558H45.9M45.9 685.2V688.4M72.3 685.2V688.4M98.7 685.2V688.4M125.1 685.2V688.4M151.5 685.2V688.4M177.9 685.2V688.4" stroke="#000" stroke-width="1.3" fill="none"/>
<text transform="translate(41.4 688.9) scale(1 1.05)" text-anchor="end" font-size="10.5">0.0</text>
<text transform="translate(41.4 646.5) scale(1 1.05)" text-anchor="end" font-size="10.5">0.2</text>
<text transform="translate(41.4 604.1) scale(1 1.05)" text-anchor="end" font-size="10.5">0.4</text>
<text transform="translate(41.4 561.7) scale(1 1.05)" text-anchor="end" font-size="10.5">0.6</text>
<text transform="translate(45.9 700.4) scale(1 1.05)" text-anchor="middle" font-size="10.5">-4</text>
<text transform="translate(72.3 700.4) scale(1 1.05)" text-anchor="middle" font-size="10.5">-2</text>
<text transform="translate(98.7 700.4) scale(1 1.05)" text-anchor="middle" font-size="10.5">0</text>
<text transform="translate(125.1 700.4) scale(1 1.05)" text-anchor="middle" font-size="10.5">2</text>
<text transform="translate(151.5 700.4) scale(1 1.05)" text-anchor="middle" font-size="10.5">4</text>
<text transform="translate(177.9 700.4) scale(1 1.05)" text-anchor="middle" font-size="10.5">6</text>
<text transform="translate(111.9 708.2) scale(1 1.05)" text-anchor="middle" font-size="10.5">Log(C)nM</text>
<text transform="translate(24.1 618.3) rotate(-90) scale(1 1.05)" text-anchor="middle" font-size="10.5">Net BRET</text>
<text transform="translate(111.7 549.7) scale(1 1.05)" text-anchor="middle" font-size="10.5">β-arrestin1</text>
<text transform="translate(21 528.6) scale(1 1.15)" font-size="9.2" font-weight="bold">M</text>
<path d="M48.1 569.5H58.1" stroke="#0433ff" stroke-width="2.2"/>
<rect x="50.9" y="567.3" width="4.4" height="4.4" fill="#0433ff"/>
<text transform="translate(60.4 573.58) scale(1 1.05)" font-size="10.5">CCK8s n=5</text>
<path d="M48.1 585.4H58.1" stroke="#ff2600" stroke-width="2.2"/>
<circle cx="53.1" cy="585.4" r="2.2" fill="#ff2600"/>
<text transform="translate(60.4 589.48) scale(1 1.05)" font-size="10.5">MF-8 n=4</text>
<path d="M229.04 679.61V682.79M226.24 679.61h5.6M226.24 682.79h5.6" stroke="#ff6a50" stroke-width="1" fill="none"/>
<path d="M238.26 678.81V681.99M235.46 678.81h5.6M235.46 681.99h5.6" stroke="#ff6a50" stroke-width="1" fill="none"/>
<path d="M247.49 676.27V679.45M244.69 676.27h5.6M244.69 679.45h5.6" stroke="#ff6a50" stroke-width="1" fill="none"/>
<path d="M256.72 659.57V672.29M253.92 659.57h5.6M253.92 672.29h5.6" stroke="#ff6a50" stroke-width="1" fill="none"/>
<path d="M265.94 647.17V666.25M263.14 647.17h5.6M263.14 666.25h5.6" stroke="#ff6a50" stroke-width="1" fill="none"/>
<path d="M275.17 636.68V655.76M272.37 636.68h5.6M272.37 655.76h5.6" stroke="#ff6a50" stroke-width="1" fill="none"/>
<path d="M284.39 633.82V646.53M281.59 633.82h5.6M281.59 646.53h5.6" stroke="#ff6a50" stroke-width="1" fill="none"/>
<path d="M293.62 621.73V637.63M290.82 621.73h5.6M290.82 637.63h5.6" stroke="#ff6a50" stroke-width="1" fill="none"/>
<path d="M302.85 608.22V627.3M300.05 608.22h5.6M300.05 627.3h5.6" stroke="#ff6a50" stroke-width="1" fill="none"/>
<path d="M312.07 597.72V619.98M309.27 597.72h5.6M309.27 619.98h5.6" stroke="#ff6a50" stroke-width="1" fill="none"/>
<path d="M321.3 605.04V617.76M318.5 605.04h5.6M318.5 617.76h5.6" stroke="#ff6a50" stroke-width="1" fill="none"/>
<polyline points="228.9,675.14 230.05,675.13 231.21,675.13 232.36,675.13 233.52,675.12 234.67,675.11 235.83,675.1 236.98,675.09 238.14,675.07 239.29,675.05 240.45,675.03 241.6,675.01 242.76,674.97 243.91,674.93 245.07,674.88 246.22,674.82 247.38,674.75 248.53,674.66 249.69,674.55 250.84,674.41 252,674.25 253.15,674.05 254.31,673.81 255.46,673.52 256.62,673.17 257.77,672.74 258.93,672.23 260.08,671.62 261.24,670.88 262.39,670.02 263.55,668.99 264.7,667.79 265.86,666.39 267.01,664.79 268.17,662.96 269.32,660.9 270.48,658.63 271.63,656.15 272.79,653.49 273.94,650.69 275.1,647.81 276.25,644.89 277.41,641.99 278.56,639.18 279.72,636.5 280.88,633.99 282.03,631.68 283.19,629.6 284.34,627.74 285.5,626.1 286.65,624.67 287.81,623.45 288.96,622.4 290.12,621.51 291.27,620.76 292.42,620.13 293.58,619.6 294.74,619.16 295.89,618.8 297.04,618.5 298.2,618.26 299.36,618.05 300.51,617.88 301.66,617.75 302.82,617.63 303.97,617.54 305.13,617.46 306.28,617.4 307.44,617.35 308.59,617.31 309.75,617.27 310.9,617.25 312.06,617.22 313.21,617.2 314.37,617.19 315.52,617.18 316.68,617.17 317.83,617.16 318.99,617.15 320.14,617.15 321.3,617.14" fill="none" stroke="#ff2600" stroke-width="2.6" stroke-linecap="round" stroke-linejoin="round"/>
<circle cx="229.04" cy="681.2" r="2.6" fill="#ff2600"/>
<circle cx="238.26" cy="680.4" r="2.6" fill="#ff2600"/>
<circle cx="247.49" cy="677.86" r="2.6" fill="#ff2600"/>
<circle cx="256.72" cy="665.93" r="2.6" fill="#ff2600"/>
<circle cx="265.94" cy="656.71" r="2.6" fill="#ff2600"/>
<circle cx="275.17" cy="646.22" r="2.6" fill="#ff2600"/>
<circle cx="284.39" cy="640.17" r="2.6" fill="#ff2600"/>
<circle cx="293.62" cy="629.68" r="2.6" fill="#ff2600"/>
<circle cx="302.85" cy="617.76" r="2.6" fill="#ff2600"/>
<circle cx="312.07" cy="608.85" r="2.6" fill="#ff2600"/>
<circle cx="321.3" cy="611.4" r="2.6" fill="#ff2600"/>
<path d="M229.04 679.45V682.63M226.24 679.45h5.6M226.24 682.63h5.6" stroke="#4a6bff" stroke-width="1" fill="none"/>
<path d="M238.26 678.81V681.99M235.46 678.81h5.6M235.46 681.99h5.6" stroke="#4a6bff" stroke-width="1" fill="none"/>
<path d="M247.49 679.45V682.63M244.69 679.45h5.6M244.69 682.63h5.6" stroke="#4a6bff" stroke-width="1" fill="none"/>
<path d="M256.72 669.43V675.79M253.92 669.43h5.6M253.92 675.79h5.6" stroke="#4a6bff" stroke-width="1" fill="none"/>
<path d="M265.94 665.46V671.82M263.14 665.46h5.6M263.14 671.82h5.6" stroke="#4a6bff" stroke-width="1" fill="none"/>
<path d="M275.17 657.98V664.34M272.37 657.98h5.6M272.37 664.34h5.6" stroke="#4a6bff" stroke-width="1" fill="none"/>
<path d="M284.39 643.36V652.89M281.59 643.36h5.6M281.59 652.89h5.6" stroke="#4a6bff" stroke-width="1" fill="none"/>
<path d="M293.62 622.53V644.79M290.82 622.53h5.6M290.82 644.79h5.6" stroke="#4a6bff" stroke-width="1" fill="none"/>
<path d="M302.85 605.04V630.48M300.05 605.04h5.6M300.05 630.48h5.6" stroke="#4a6bff" stroke-width="1" fill="none"/>
<path d="M312.07 598.99V627.61M309.27 598.99h5.6M309.27 627.61h5.6" stroke="#4a6bff" stroke-width="1" fill="none"/>
<path d="M321.3 606.15V628.41M318.5 606.15h5.6M318.5 628.41h5.6" stroke="#4a6bff" stroke-width="1" fill="none"/>
<polyline points="228.9,676.74 230.05,676.74 231.21,676.74 232.36,676.74 233.52,676.74 234.67,676.73 235.83,676.73 236.98,676.73 238.14,676.73 239.29,676.72 240.45,676.72 241.6,676.71 242.76,676.7 243.91,676.69 245.07,676.68 246.22,676.67 247.38,676.65 248.53,676.63 249.69,676.6 250.84,676.57 252,676.53 253.15,676.49 254.31,676.43 255.46,676.36 256.62,676.28 257.77,676.17 258.93,676.04 260.08,675.89 261.24,675.7 262.39,675.48 263.55,675.2 264.7,674.87 265.86,674.46 267.01,673.98 268.17,673.39 269.32,672.7 270.48,671.87 271.63,670.88 272.79,669.73 273.94,668.38 275.1,666.83 276.25,665.05 277.41,663.04 278.56,660.8 279.72,658.33 280.88,655.68 282.03,652.86 283.19,649.93 284.34,646.93 285.5,643.94 286.65,641.01 287.81,638.19 288.96,635.53 290.12,633.07 291.27,630.83 292.42,628.82 293.58,627.04 294.74,625.48 295.89,624.14 297.04,622.98 298.2,622 299.36,621.17 300.51,620.47 301.66,619.89 302.82,619.4 303.97,619 305.13,618.67 306.28,618.39 307.44,618.16 308.59,617.97 309.75,617.82 310.9,617.69 312.06,617.59 313.21,617.5 314.37,617.43 315.52,617.38 316.68,617.33 317.83,617.29 318.99,617.26 320.14,617.24 321.3,617.21" fill="none" stroke="#0433ff" stroke-width="2.6" stroke-linecap="round" stroke-linejoin="round"/>
<rect x="226.74" y="678.74" width="4.6" height="4.6" fill="#0433ff"/>
<rect x="235.96" y="678.1" width="4.6" height="4.6" fill="#0433ff"/>
<rect x="245.19" y="678.74" width="4.6" height="4.6" fill="#0433ff"/>
<rect x="254.42" y="670.31" width="4.6" height="4.6" fill="#0433ff"/>
<rect x="263.64" y="666.34" width="4.6" height="4.6" fill="#0433ff"/>
<rect x="272.87" y="658.86" width="4.6" height="4.6" fill="#0433ff"/>
<rect x="282.09" y="645.83" width="4.6" height="4.6" fill="#0433ff"/>
<rect x="291.32" y="631.36" width="4.6" height="4.6" fill="#0433ff"/>
<rect x="300.55" y="615.46" width="4.6" height="4.6" fill="#0433ff"/>
<rect x="309.77" y="611" width="4.6" height="4.6" fill="#0433ff"/>
<rect x="319" y="614.98" width="4.6" height="4.6" fill="#0433ff"/>
<rect x="215.7" y="556.7" width="132" height="127.2" fill="none" stroke="#000" stroke-width="1.5"/>
<path d="M212.4 683.9H215.7M212.4 652.1H215.7M212.4 620.3H215.7M212.4 588.5H215.7M212.4 556.7H215.7M215.7 683.9V687.1M242.1 683.9V687.1M268.5 683.9V687.1M294.9 683.9V687.1M321.3 683.9V687.1M347.7 683.9V687.1" stroke="#000" stroke-width="1.3" fill="none"/>
<text transform="translate(211.2 687.6) scale(1 1.05)" text-anchor="end" font-size="10.5">0.0</text>
<text transform="translate(211.2 655.8) scale(1 1.05)" text-anchor="end" font-size="10.5">0.2</text>
<text transform="translate(211.2 624) scale(1 1.05)" text-anchor="end" font-size="10.5">0.4</text>
<text transform="translate(211.2 592.2) scale(1 1.05)" text-anchor="end" font-size="10.5">0.6</text>
<text transform="translate(211.2 560.4) scale(1 1.05)" text-anchor="end" font-size="10.5">0.8</text>
<text transform="translate(215.7 699.1) scale(1 1.05)" text-anchor="middle" font-size="10.5">-4</text>
<text transform="translate(242.1 699.1) scale(1 1.05)" text-anchor="middle" font-size="10.5">-2</text>
<text transform="translate(268.5 699.1) scale(1 1.05)" text-anchor="middle" font-size="10.5">0</text>
<text transform="translate(294.9 699.1) scale(1 1.05)" text-anchor="middle" font-size="10.5">2</text>
<text transform="translate(321.3 699.1) scale(1 1.05)" text-anchor="middle" font-size="10.5">4</text>
<text transform="translate(347.7 699.1) scale(1 1.05)" text-anchor="middle" font-size="10.5">6</text>
<text transform="translate(281.7 706.9) scale(1 1.05)" text-anchor="middle" font-size="10.5">Log(C)nM</text>
<text transform="translate(193.9 617) rotate(-90) scale(1 1.05)" text-anchor="middle" font-size="10.5">Net BRET</text>
<text transform="translate(281.7 550.2) scale(1 1.05)" text-anchor="middle" font-size="10.5">β-arrestin2</text>
<text transform="translate(178 529) scale(1 1.15)" font-size="9.2" font-weight="bold">N</text>
<path d="M218.1 562.9H228" stroke="#0433ff" stroke-width="2.2"/>
<rect x="220.85" y="560.7" width="4.4" height="4.4" fill="#0433ff"/>
<text transform="translate(230.4 566.98) scale(1 1.05)" font-size="10.5">CCK8s n=4</text>
<path d="M218.1 578.5H228" stroke="#ff2600" stroke-width="2.2"/>
<circle cx="223.05" cy="578.5" r="2.2" fill="#ff2600"/>
<text transform="translate(230.4 582.58) scale(1 1.05)" font-size="10.5">MF-8 n=4</text>
<path d="M504.2 609.46L511.37 611.38L516.62 616.63L518.54 623.8L516.62 630.97L511.37 636.22L504.2 638.14L497.03 636.22L491.78 630.97L489.86 623.8L491.78 616.63L497.03 611.38ZM504.2 595.12L518.54 598.96L529.04 609.46L532.88 623.8L529.04 638.14L518.54 648.64L504.2 652.48L489.86 648.64L479.36 638.14L475.52 623.8L479.36 609.46L489.86 598.96ZM504.2 580.78L525.71 586.54L541.46 602.29L547.22 623.8L541.46 645.31L525.71 661.06L504.2 666.82L482.69 661.06L466.94 645.31L461.18 623.8L466.94 602.29L482.69 586.54ZM504.2 566.44L532.88 574.12L553.88 595.12L561.56 623.8L553.88 652.48L532.88 673.48L504.2 681.16L475.52 673.48L454.52 652.48L446.84 623.8L454.52 595.12L475.52 574.12ZM504.2 552.1L540.05 561.71L566.29 587.95L575.9 623.8L566.29 659.65L540.05 685.89L504.2 695.5L468.35 685.89L442.11 659.65L432.5 623.8L442.11 587.95L468.35 561.71ZM504.2 623.8L504.2 543.8M504.2 623.8L544.2 554.52M504.2 623.8L573.48 583.8M504.2 623.8L584.2 623.8M504.2 623.8L573.48 663.8M504.2 623.8L544.2 693.08M504.2 623.8L504.2 703.8M504.2 623.8L464.2 693.08M504.2 623.8L434.92 663.8M504.2 623.8L424.2 623.8M504.2 623.8L434.92 583.8M504.2 623.8L464.2 554.52" stroke="#ebebeb" stroke-width="1" fill="none"/>
<text transform="translate(492.7 627.4) scale(1 1.05)" text-anchor="end" font-size="10" fill="#555" style="stroke:#555;stroke-width:0.15px">-2.5</text>
<text transform="translate(492.7 613.06) scale(1 1.05)" text-anchor="end" font-size="10" fill="#555" style="stroke:#555;stroke-width:0.15px">-2</text>
<text transform="translate(492.7 598.72) scale(1 1.05)" text-anchor="end" font-size="10" fill="#555" style="stroke:#555;stroke-width:0.15px">-1.5</text>
<text transform="translate(492.7 584.38) scale(1 1.05)" text-anchor="end" font-size="10" fill="#555" style="stroke:#555;stroke-width:0.15px">-1</text>
<text transform="translate(492.7 570.04) scale(1 1.05)" text-anchor="end" font-size="10" fill="#555" style="stroke:#555;stroke-width:0.15px">-0.5</text>
<text transform="translate(492.7 555.7) scale(1 1.05)" text-anchor="end" font-size="10" fill="#555" style="stroke:#555;stroke-width:0.15px">0</text>
<path d="M504.2 552.1L540.05 561.71L566.29 587.95L575.9 623.8L566.29 659.65L540.05 685.89L504.2 695.5L468.35 685.89L442.11 659.65L432.5 623.8L442.11 587.95L468.35 561.71Z" stroke="#2b2bff" stroke-width="1.6" fill="none" stroke-linejoin="round"/>
<circle cx="540.05" cy="561.71" r="2" fill="#4a5a78"/>
<circle cx="566.29" cy="587.95" r="2" fill="#4a5a78"/>
<circle cx="575.9" cy="623.8" r="2" fill="#4a5a78"/>
<circle cx="566.29" cy="659.65" r="2" fill="#4a5a78"/>
<circle cx="540.05" cy="685.89" r="2" fill="#4a5a78"/>
<circle cx="504.2" cy="695.5" r="2" fill="#4a5a78"/>
<circle cx="468.35" cy="685.89" r="2" fill="#4a5a78"/>
<circle cx="442.11" cy="659.65" r="2" fill="#4a5a78"/>
<circle cx="432.5" cy="623.8" r="2" fill="#4a5a78"/>
<circle cx="442.11" cy="587.95" r="2" fill="#4a5a78"/>
<circle cx="468.35" cy="561.71" r="2" fill="#4a5a78"/>
<path d="M504.2 614.34L528.58 581.58L509.66 620.65L550.37 623.8L535.5 641.87L510.22 634.23L504.2 653.34L505.92 620.82L477.87 639L482.4 623.8L427.45 579.49L459.17 545.81Z" stroke="#f23c19" stroke-width="1.6" fill="none" stroke-linejoin="round"/>
<circle cx="504.2" cy="614.34" r="2.1" fill="#f0883a"/>
<circle cx="528.58" cy="581.58" r="2.1" fill="#f0883a"/>
<circle cx="509.66" cy="620.65" r="2.1" fill="#f0883a"/>
<circle cx="550.37" cy="623.8" r="2.1" fill="#f0883a"/>
<circle cx="535.5" cy="641.87" r="2.1" fill="#f0883a"/>
<circle cx="510.22" cy="634.23" r="2.1" fill="#f0883a"/>
<circle cx="504.2" cy="653.34" r="2.1" fill="#f0883a"/>
<circle cx="505.92" cy="620.82" r="2.1" fill="#f0883a"/>
<circle cx="477.87" cy="639" r="2.1" fill="#f0883a"/>
<circle cx="482.4" cy="623.8" r="2.1" fill="#f0883a"/>
<circle cx="427.45" cy="579.49" r="2.1" fill="#f0883a"/>
<circle cx="459.17" cy="545.81" r="2.1" fill="#f0883a"/>
<circle cx="504.2" cy="552.1" r="3.6" fill="#555" stroke="#5577bb" stroke-width="0.6"/>
<text transform="translate(504.6 529.5) rotate(25) scale(1 1.05)" text-anchor="middle" font-size="9.7" font-style="italic" fill="#222" style="stroke:#222" y="3.4">Gαi1</text>
<text transform="translate(558 551.5) rotate(25) scale(1 1.05)" text-anchor="middle" font-size="9.7" font-style="italic" fill="#222" style="stroke:#222" y="3.4">Gαi2</text>
<text transform="translate(589 581.2) rotate(25) scale(1 1.05)" text-anchor="middle" font-size="9.7" font-style="italic" fill="#222" style="stroke:#222" y="3.4">Gαi3</text>
<text transform="translate(600.9 623.6) rotate(25) scale(1 1.05)" text-anchor="middle" font-size="9.7" font-style="italic" fill="#222" style="stroke:#222" y="3.4">Gαoa</text>
<text transform="translate(590.2 664.8) rotate(25) scale(1 1.05)" text-anchor="middle" font-size="9.7" font-style="italic" fill="#222" style="stroke:#222" y="3.4">Gαob</text>
<text transform="translate(557.3 695.6) rotate(25) scale(1 1.05)" text-anchor="middle" font-size="9.7" font-style="italic" fill="#222" style="stroke:#222" y="3.4">Gαz</text>
<text transform="translate(504.5 717.5) rotate(25) scale(1 1.05)" text-anchor="middle" font-size="9.7" font-style="italic" fill="#222" style="stroke:#222" y="3.4">Gα13</text>
<text transform="translate(451.9 696.1) rotate(25) scale(1 1.05)" text-anchor="middle" font-size="9.7" font-style="italic" fill="#222" style="stroke:#222" y="3.4">Gαs</text>
<text transform="translate(418.6 665.4) rotate(25) scale(1 1.05)" text-anchor="middle" font-size="9.7" font-style="italic" fill="#222" style="stroke:#222" y="3.4">Gαq</text>
<text transform="translate(407.4 623.5) rotate(25) scale(1 1.05)" text-anchor="middle" font-size="9.7" font-style="italic" fill="#222" style="stroke:#222" y="3.4">Gα11</text>
<text transform="translate(408 581.6) rotate(25) scale(1 1.05)" text-anchor="middle" font-size="9.3" font-style="italic" fill="#222" style="stroke:#222" y="3.4">β-arrestin1</text>
<text transform="translate(438.4 552.4) rotate(25) scale(1 1.05)" text-anchor="middle" font-size="9.3" font-style="italic" fill="#222" style="stroke:#222" y="3.4">β-arrestin2</text>
<path d="M602.8 527.9H617.7" stroke="#2b2bff" stroke-width="1.8"/><circle cx="610.2" cy="527.9" r="2" fill="#4a5a78"/>
<path d="M603 543.2H617" stroke="#f23c19" stroke-width="1.8"/><circle cx="610" cy="543.2" r="2" fill="#f0883a"/>
<text transform="translate(618.8 530.8) scale(1 1.05)" font-size="8.8" style="stroke-width:0.1px">CCK8s</text><text transform="translate(618.8 546.1) scale(1 1.05)" font-size="8.8" style="stroke-width:0.1px">MF-8</text>
<text transform="translate(368.9 529.2) scale(1 1.15)" font-size="9.2" font-weight="bold">O</text>
</svg>
</div></body></html>
